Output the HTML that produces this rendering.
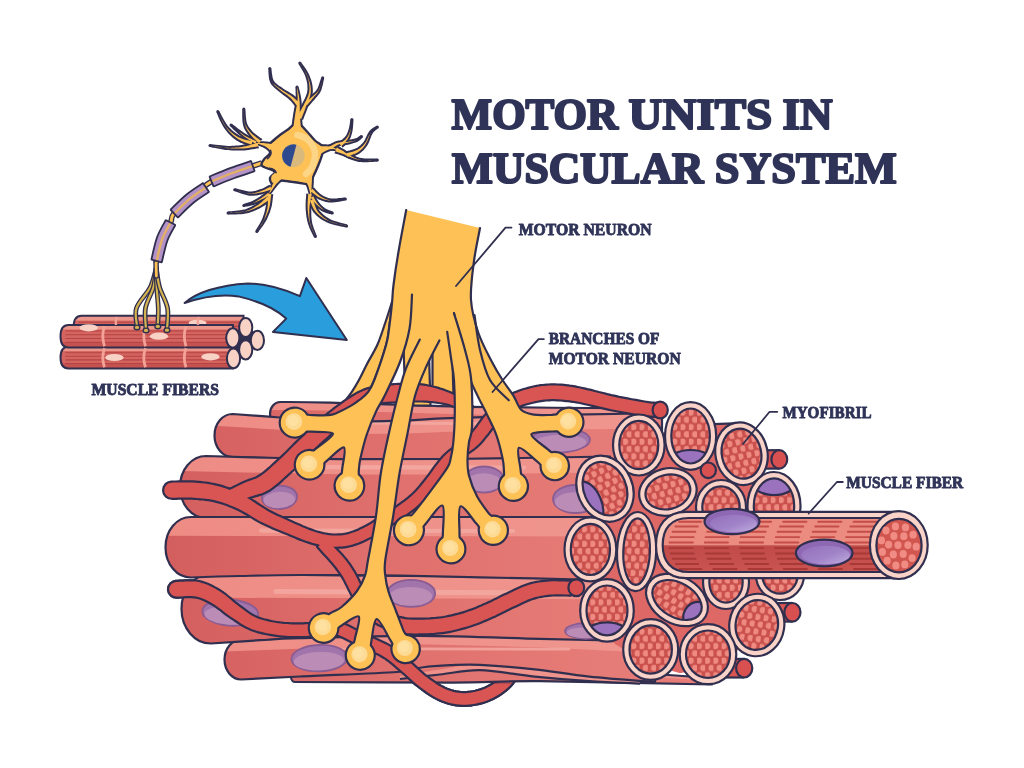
<!DOCTYPE html>
<html lang="en"><head><meta charset="utf-8"><title>Motor units in muscular system</title>
<style>
html,body{margin:0;padding:0;background:#fff;}
body{width:1024px;height:768px;overflow:hidden;font-family:"Liberation Serif",serif;}
svg{display:block;filter:blur(0.35px);}
svg text{font-family:"Liberation Serif",serif;font-weight:bold;fill:#2f3357;}
</style></head><body>
<svg width="1024" height="768" viewBox="0 0 1024 768">
<defs>
<linearGradient id="gf" gradientUnits="userSpaceOnUse" x1="165" y1="0" x2="600" y2="0"><stop offset="0" stop-color="#d35e5e"/><stop offset="0.45" stop-color="#de6e6b"/><stop offset="1" stop-color="#e67c77"/></linearGradient>
<linearGradient id="gd" gradientUnits="userSpaceOnUse" x1="165" y1="0" x2="600" y2="0"><stop offset="0" stop-color="#d35e5e"/><stop offset="0.45" stop-color="#de6e6b"/><stop offset="1" stop-color="#e67c77"/></linearGradient>
<linearGradient id="gl" gradientUnits="userSpaceOnUse" x1="165" y1="0" x2="600" y2="0"><stop offset="0" stop-color="#ee8c84"/><stop offset="1" stop-color="#ef958e"/></linearGradient>
<clipPath id="fc1"><path d="M662 408.5C630 408.2 525.3 407.8 470 406.8C414.7 405.8 361.7 403.4 330 402.6C298.3 401.8 288.4 402.1 280.1 402C274.5 402 270 407.3 270 414 C270 420.7 274.5 426 280.1 426L662 432Z"/></clipPath>
<clipPath id="fc2"><path d="M712 678C693.3 676.7 628.7 672.7 600 670C571.3 667.3 560 663.8 540 662C520 660.2 496.7 658.8 480 659C463.3 659.2 453.3 661.5 440 663C426.7 664.5 424.1 666.5 400 668C375.9 669.5 312.7 671.3 295.2 672C292.9 672 291 674.2 291 677 C291 679.8 292.9 682 295.2 682C321.3 682.1 411.2 682.7 452 682.6C492.8 682.5 496.7 680.9 540 681.2C583.3 681.5 683.3 684 712 684.5Z"/></clipPath>
<clipPath id="fc3"><path d="M640 413.5C626.7 413.8 591.7 414.2 560 415C528.3 415.8 476.7 417.3 450 418.2C423.3 419.1 419.2 420.1 400 420.6C380.8 421.2 355 422 335 421.5C315 421 297.1 418.8 280 417.5C262.9 416.2 240.5 414.6 232.6 414C222.6 414 214.5 423.5 214.5 435.5 C214.5 447.5 222.6 457 232.6 457L640 470Z"/></clipPath>
<clipPath id="fc4"><path d="M655 640.5C635.8 639.6 579.2 636.4 540 635C500.8 633.6 469.8 631.2 420 632C370.2 632.8 271 638.4 241.2 639.7C232 639.7 224.5 648.5 224.5 659.6 C224.5 670.7 232 679.5 241.2 679.5C251 679 274 677.8 300 676.5C326 675.2 376.7 673.5 397 672C417.3 670.5 413.2 668.6 422 667.5C430.8 666.4 440.3 665.7 450 665.2C459.7 664.8 465.9 664.1 480 664.8C494.1 665.5 516.5 667.3 534.7 669.3C552.9 671.3 569.2 674.5 589.3 676.6C609.3 678.7 644 681.1 655 682Z"/></clipPath>
<clipPath id="fc5"><path d="M610 456.5C583.3 456.9 493.3 458.6 450 459C406.7 459.4 378.3 459.4 350 459.2C321.7 459 304 458.5 280 458C256 457.5 218.4 456.3 206 456C191.7 456 180 469.6 180 487 C180 504.4 191.7 518 206 518L610 522Z"/></clipPath>
<clipPath id="fc6"><path d="M610 578 L210.7 574C194.6 574 181.5 589.3 181.5 608.8 C181.5 628.2 194.6 643.5 210.7 643.5C218.9 643 245.1 641.1 260 640.2C274.9 639.3 273.3 638.9 300 638.2C326.7 637.5 380 635.7 420 635.8C460 635.9 508.3 638 540 638.8C571.7 639.6 598.3 640.2 610 640.5Z"/></clipPath>
<clipPath id="fc7"><path d="M600 517 L190.9 517C176.9 517 165.5 530.3 165.5 547.2 C165.5 564.2 176.9 577.5 190.9 577.5C199.1 577.2 221.8 576.4 240 576C258.2 575.6 273.3 575.1 300 575C326.7 574.9 370 575.2 400 575.6C430 576 446.7 576.6 480 577.3C513.3 578 580 579.5 600 580Z"/></clipPath>
<clipPath id="holeB"><path clip-rule="evenodd" d="M0 0H1024V768H0Z M476 655 L560 655 L560 684.5 L476 683.4 Z"/></clipPath>
<pattern id="dots" width="8.2" height="14.6" patternUnits="userSpaceOnUse"><rect width="8.2" height="14.6" fill="#c9504c"/><ellipse cx="2.05" cy="3.65" rx="2.95" ry="3.2" fill="#ee8a81"/><ellipse cx="6.15" cy="10.95" rx="2.95" ry="3.2" fill="#ee8a81"/></pattern>
<clipPath id="cc8"><ellipse cx="690.6" cy="436" rx="19.3" ry="27.5"/></clipPath>
<clipPath id="cc11"><ellipse cx="774" cy="506" rx="20.2" ry="27.7"/></clipPath>
<clipPath id="cc14"><ellipse cx="605" cy="488.7" rx="21.2" ry="27.7"/></clipPath>
<clipPath id="cc19"><ellipse cx="677" cy="600" rx="26.7" ry="17.2"/></clipPath>
<clipPath id="cc20"><ellipse cx="607" cy="610.4" rx="20.5" ry="24.9"/></clipPath>
<clipPath id="extc"><path d="M898.7 518 L688.7 518 C670.7 518 662.7 529 662.7 545 C662.7 561 670.7 572 688.7 572 L898.7 572 Z"/></clipPath>
<linearGradient id="gext" x1="0" y1="0" x2="0" y2="1"><stop offset="0" stop-color="#bf4a48"/><stop offset="1" stop-color="#ca5451"/></linearGradient>
<linearGradient id="gnu" x1="0" y1="0" x2="1" y2="1"><stop offset="0" stop-color="#9570bb"/><stop offset="0.55" stop-color="#a083c8"/><stop offset="1" stop-color="#c2aee0"/></linearGradient>
<clipPath id="sf24"><path d="M243.5 315.8 L81.5 315.8 C75.5 315.8 73.5 321.9 73.5 327.9 C73.5 333.9 75.5 340 81.5 340 L243.5 340 Z"/></clipPath>
<clipPath id="sf25"><path d="M233 346.8 L68.5 346.8 C62.5 346.8 60.5 352.2 60.5 357.6 C60.5 363.1 62.5 368.5 68.5 368.5 L233 368.5 Z"/></clipPath>
<clipPath id="sf26"><path d="M233 325 L68.5 325 C62.5 325 60.5 330.6 60.5 336.2 C60.5 341.8 62.5 347.4 68.5 347.4 L233 347.4 Z"/></clipPath>
</defs>
<rect width="1024" height="768" fill="#ffffff"/>
<path d="M176.6 596.6L178.4 596.5L180.7 596.4L183.3 596.2L186.1 596.1L188.9 596L191.6 596L194.1 596.2L196.1 596.5L198 596.9L200 597.5L202 598.2L204 599L206.1 600L208.2 601.1L210.4 602.3L212.6 603.5L214.7 604.8L216.8 606.2L219.1 607.9L221.4 609.6L223.7 611.5L226.2 613.4L228.7 615.2L231.2 616.9L233.6 618.5L235.9 620.1L238.2 621.6L240.6 623.2L243.1 624.8L245.7 626.2L248.5 627.6L251.4 628.9L254.5 630L257.5 631L260.7 631.8L263.9 632.6L267 633.2L270.2 633.8L273.3 634.3L276.4 634.7L279.5 635.2L282.6 635.5L285.8 635.7L288.9 635.9L291.9 636L294.9 636.1L297.8 636.1L300.6 636.1L303.4 636L306.1 635.9L308.7 635.7L311.1 635.5L313.5 635.3L315.8 635.1L318 634.9L320.3 634.8L322.8 634.6L325.1 634.4L327.3 634.2L329.3 634L331.2 633.9L333.1 634L334.9 634.2L336.9 634.6L339.1 635.3L341.6 636.3L344.3 637.5L347.2 639L350.2 640.5L353.2 642.1L356.4 643.7L359.5 645.2L362.7 646.7L365.9 648.1L369.1 649.5L372.3 650.8L375.4 652.2L378.3 653.6L381.1 655L383.6 656.5L386 658L388.2 659.6L390.4 661.3L392.6 663L394.7 664.8L396.8 666.7L399 668.5L401.2 670.4L403.3 672.2L405.4 674L407.4 675.9L409.5 677.8L411.6 679.8L413.8 681.8L416.1 683.7L418.5 685.6L420.9 687.4L423.3 689.3L425.9 691.1L428.5 692.9L431.2 694.7L434 696.4L436.8 697.9L439.6 699.3L442.4 700.5L445.2 701.5L448 702.4L450.8 703.2L453.7 703.8L456.6 704.3L459.6 704.6L462.6 704.8L465.6 704.8L468.8 704.6L471.9 704.2L475 703.7L478.1 703.1L481.2 702.3L484.2 701.4L487 700.4L489.8 699.3L492.6 698L495.3 696.6L497.9 695.1L500.4 693.5L502.7 691.8L505 690L507.3 688.1L509.5 686L511.7 683.6L513.7 681.1L515.5 678.6L517.2 676.3L518.6 674.3L519.8 672.6L520.6 671.5L511.4 664.5L510.4 665.9L509.1 667.6L507.7 669.6L506.2 671.8L504.5 673.9L502.8 676L501.2 677.9L499.5 679.5L497.8 680.9L495.9 682.4L493.8 683.9L491.8 685.2L489.6 686.5L487.4 687.6L485.2 688.7L483 689.6L480.6 690.4L478.1 691.1L475.6 691.8L472.9 692.3L470.3 692.7L467.7 693L465.2 693.2L462.8 693.2L460.5 693.1L458.2 692.8L455.9 692.4L453.6 691.9L451.3 691.3L449 690.6L446.7 689.7L444.4 688.7L442.1 687.6L439.8 686.3L437.4 684.9L435 683.3L432.6 681.6L430.2 679.9L427.8 678.1L425.5 676.4L423.4 674.7L421.4 673L419.4 671.2L417.3 669.3L415.3 667.4L413.2 665.5L411 663.5L408.8 661.6L406.6 659.7L404.4 657.9L402.2 656L400 654.1L397.6 652.1L395.1 650.2L392.4 648.3L389.6 646.5L386.6 644.8L383.4 643.2L380.2 641.7L377 640.2L373.7 638.8L370.5 637.4L367.4 636.1L364.5 634.8L361.6 633.3L358.6 631.8L355.5 630.2L352.4 628.6L349.3 627.1L346.2 625.6L343 624.4L339.9 623.4L336.8 622.7L333.9 622.4L331.1 622.3L328.6 622.4L326.2 622.6L324 622.9L321.9 623.1L319.7 623.2L317.3 623.3L314.8 623.5L312.4 623.7L310.1 624L307.7 624.2L305.4 624.3L303 624.5L300.6 624.5L297.9 624.5L295.1 624.5L292.3 624.4L289.4 624.3L286.5 624.1L283.7 623.9L280.8 623.6L278 623.3L275.2 622.8L272.3 622.3L269.4 621.7L266.5 621L263.7 620.3L261 619.5L258.5 618.7L256.1 617.7L253.9 616.6L251.7 615.5L249.7 614.2L247.6 612.7L245.5 611.2L243.3 609.6L241.1 607.9L238.8 606.3L236.6 604.6L234.4 602.9L232.2 601L229.9 599L227.5 597.1L225.1 595.1L222.5 593.2L219.9 591.5L217.4 590L215 588.6L212.5 587.3L210 586L207.4 584.8L204.7 583.8L201.9 582.9L198.9 582.1L195.6 581.6L192.1 581.4L188.8 581.4L185.5 581.5L182.4 581.7L179.8 581.8L177.7 582L176.2 582L173.4 582.7L171.1 584.3L169.6 586.7L169.1 589.5L169.8 592.3L171.4 594.6L173.8 596.1Z" fill="#312f4f" stroke="#312f4f" stroke-width="4.4" stroke-linejoin="round"/>
<path d="M176.6 596.6L178.4 596.5L180.7 596.4L183.3 596.2L186.1 596.1L188.9 596L191.6 596L194.1 596.2L196.1 596.5L198 596.9L200 597.5L202 598.2L204 599L206.1 600L208.2 601.1L210.4 602.3L212.6 603.5L214.7 604.8L216.8 606.2L219.1 607.9L221.4 609.6L223.7 611.5L226.2 613.4L228.7 615.2L231.2 616.9L233.6 618.5L235.9 620.1L238.2 621.6L240.6 623.2L243.1 624.8L245.7 626.2L248.5 627.6L251.4 628.9L254.5 630L257.5 631L260.7 631.8L263.9 632.6L267 633.2L270.2 633.8L273.3 634.3L276.4 634.7L279.5 635.2L282.6 635.5L285.8 635.7L288.9 635.9L291.9 636L294.9 636.1L297.8 636.1L300.6 636.1L303.4 636L306.1 635.9L308.7 635.7L311.1 635.5L313.5 635.3L315.8 635.1L318 634.9L320.3 634.8L322.8 634.6L325.1 634.4L327.3 634.2L329.3 634L331.2 633.9L333.1 634L334.9 634.2L336.9 634.6L339.1 635.3L341.6 636.3L344.3 637.5L347.2 639L350.2 640.5L353.2 642.1L356.4 643.7L359.5 645.2L362.7 646.7L365.9 648.1L369.1 649.5L372.3 650.8L375.4 652.2L378.3 653.6L381.1 655L383.6 656.5L386 658L388.2 659.6L390.4 661.3L392.6 663L394.7 664.8L396.8 666.7L399 668.5L401.2 670.4L403.3 672.2L405.4 674L407.4 675.9L409.5 677.8L411.6 679.8L413.8 681.8L416.1 683.7L418.5 685.6L420.9 687.4L423.3 689.3L425.9 691.1L428.5 692.9L431.2 694.7L434 696.4L436.8 697.9L439.6 699.3L442.4 700.5L445.2 701.5L448 702.4L450.8 703.2L453.7 703.8L456.6 704.3L459.6 704.6L462.6 704.8L465.6 704.8L468.8 704.6L471.9 704.2L475 703.7L478.1 703.1L481.2 702.3L484.2 701.4L487 700.4L489.8 699.3L492.6 698L495.3 696.6L497.9 695.1L500.4 693.5L502.7 691.8L505 690L507.3 688.1L509.5 686L511.7 683.6L513.7 681.1L515.5 678.6L517.2 676.3L518.6 674.3L519.8 672.6L520.6 671.5L511.4 664.5L510.4 665.9L509.1 667.6L507.7 669.6L506.2 671.8L504.5 673.9L502.8 676L501.2 677.9L499.5 679.5L497.8 680.9L495.9 682.4L493.8 683.9L491.8 685.2L489.6 686.5L487.4 687.6L485.2 688.7L483 689.6L480.6 690.4L478.1 691.1L475.6 691.8L472.9 692.3L470.3 692.7L467.7 693L465.2 693.2L462.8 693.2L460.5 693.1L458.2 692.8L455.9 692.4L453.6 691.9L451.3 691.3L449 690.6L446.7 689.7L444.4 688.7L442.1 687.6L439.8 686.3L437.4 684.9L435 683.3L432.6 681.6L430.2 679.9L427.8 678.1L425.5 676.4L423.4 674.7L421.4 673L419.4 671.2L417.3 669.3L415.3 667.4L413.2 665.5L411 663.5L408.8 661.6L406.6 659.7L404.4 657.9L402.2 656L400 654.1L397.6 652.1L395.1 650.2L392.4 648.3L389.6 646.5L386.6 644.8L383.4 643.2L380.2 641.7L377 640.2L373.7 638.8L370.5 637.4L367.4 636.1L364.5 634.8L361.6 633.3L358.6 631.8L355.5 630.2L352.4 628.6L349.3 627.1L346.2 625.6L343 624.4L339.9 623.4L336.8 622.7L333.9 622.4L331.1 622.3L328.6 622.4L326.2 622.6L324 622.9L321.9 623.1L319.7 623.2L317.3 623.3L314.8 623.5L312.4 623.7L310.1 624L307.7 624.2L305.4 624.3L303 624.5L300.6 624.5L297.9 624.5L295.1 624.5L292.3 624.4L289.4 624.3L286.5 624.1L283.7 623.9L280.8 623.6L278 623.3L275.2 622.8L272.3 622.3L269.4 621.7L266.5 621L263.7 620.3L261 619.5L258.5 618.7L256.1 617.7L253.9 616.6L251.7 615.5L249.7 614.2L247.6 612.7L245.5 611.2L243.3 609.6L241.1 607.9L238.8 606.3L236.6 604.6L234.4 602.9L232.2 601L229.9 599L227.5 597.1L225.1 595.1L222.5 593.2L219.9 591.5L217.4 590L215 588.6L212.5 587.3L210 586L207.4 584.8L204.7 583.8L201.9 582.9L198.9 582.1L195.6 581.6L192.1 581.4L188.8 581.4L185.5 581.5L182.4 581.7L179.8 581.8L177.7 582L176.2 582L173.4 582.7L171.1 584.3L169.6 586.7L169.1 589.5L169.8 592.3L171.4 594.6L173.8 596.1Z" fill="#d95553"/>
<path d="M392.3 301C391.2 304.5 388 314.8 385.5 322C383 329.2 380.6 337.5 377.5 344.5C374.4 351.5 370 358.2 367 364C364 369.8 362 374.4 359.5 379C357 383.6 354.7 387.6 352 391.6C349.3 395.7 345.7 399.9 343.4 403.3C341.1 406.7 338.9 410.6 338 412 L358 412 C358.7 410 360.3 403.4 362 400C363.7 396.6 366.3 395.1 368.4 391.6C370.5 388.1 371.7 386.9 374.7 379C377.7 371.1 383.7 353.5 386.2 344.5C388.7 335.5 388.5 331.9 389.5 325C390.5 318.1 391.9 307 392.4 303.4" fill="#fdc156" stroke="#312f4f" stroke-width="2.2" stroke-linejoin="round"/>
<g id="bundle">
<path d="M662 408.5C630 408.2 525.3 407.8 470 406.8C414.7 405.8 361.7 403.4 330 402.6C298.3 401.8 288.4 402.1 280.1 402C274.5 402 270 407.3 270 414 C270 420.7 274.5 426 280.1 426L662 432Z" fill="url(#gf)"/>
<g clip-path="url(#fc1)">
<path d="M268 399L330 399.6L470 403.8L662 405.5L662 416.3L470 414.6L330 410.5L268 409.9Z" fill="url(#gl)"/>
</g>
<path d="M662 408.5C630 408.2 525.3 407.8 470 406.8C414.7 405.8 361.7 403.4 330 402.6C298.3 401.8 288.4 402.1 280.1 402C274.5 402 270 407.3 270 414 C270 420.7 274.5 426 280.1 426L662 432Z" fill="none" stroke="#312f4f" stroke-width="2.2" stroke-linejoin="round"/>
<path d="M712 678C693.3 676.7 628.7 672.7 600 670C571.3 667.3 560 663.8 540 662C520 660.2 496.7 658.8 480 659C463.3 659.2 453.3 661.5 440 663C426.7 664.5 424.1 666.5 400 668C375.9 669.5 312.7 671.3 295.2 672C292.9 672 291 674.2 291 677 C291 679.8 292.9 682 295.2 682C321.3 682.1 411.2 682.7 452 682.6C492.8 682.5 496.7 680.9 540 681.2C583.3 681.5 683.3 684 712 684.5Z" fill="url(#gf)"/>
<g clip-path="url(#fc2)">
<path d="M289 669L400 665L440 660L480 656L540 659L600 667L712 675L712 680.9L600 673.3L540 665.6L480 662.8L440 666.9L400 672.1L289 676.5Z" fill="url(#gl)"/>
</g>
<path d="M712 678C693.3 676.7 628.7 672.7 600 670C571.3 667.3 560 663.8 540 662C520 660.2 496.7 658.8 480 659C463.3 659.2 453.3 661.5 440 663C426.7 664.5 424.1 666.5 400 668C375.9 669.5 312.7 671.3 295.2 672C292.9 672 291 674.2 291 677 C291 679.8 292.9 682 295.2 682C321.3 682.1 411.2 682.7 452 682.6C492.8 682.5 496.7 680.9 540 681.2C583.3 681.5 683.3 684 712 684.5Z" fill="none" stroke="#312f4f" stroke-width="2.2" stroke-linejoin="round"/>
<path d="M640 413.5C626.7 413.8 591.7 414.2 560 415C528.3 415.8 476.7 417.3 450 418.2C423.3 419.1 419.2 420.1 400 420.6C380.8 421.2 355 422 335 421.5C315 421 297.1 418.8 280 417.5C262.9 416.2 240.5 414.6 232.6 414C222.6 414 214.5 423.5 214.5 435.5 C214.5 447.5 222.6 457 232.6 457L640 470Z" fill="url(#gf)"/>
<g clip-path="url(#fc3)">
<path d="M212.5 411L280 414.5L335 418.5L400 417.6L450 415.2L560 412L640 410.5L640 428.8L560 429.6L450 431.8L400 433.8L335 434.1L280 429.7L212.5 425.6Z" fill="url(#gl)"/>
<path d="M308.1 422.8 L554.9 424.1" stroke="#f4aaa2" stroke-width="3" stroke-linecap="round" opacity="0.85"/>
</g>
<path d="M640 413.5C626.7 413.8 591.7 414.2 560 415C528.3 415.8 476.7 417.3 450 418.2C423.3 419.1 419.2 420.1 400 420.6C380.8 421.2 355 422 335 421.5C315 421 297.1 418.8 280 417.5C262.9 416.2 240.5 414.6 232.6 414C222.6 414 214.5 423.5 214.5 435.5 C214.5 447.5 222.6 457 232.6 457L640 470Z" fill="none" stroke="#312f4f" stroke-width="2.2" stroke-linejoin="round"/>
<path d="M400 676C406.7 674.9 426.7 671.5 440 669.5C453.3 667.5 464.2 664.2 480 664C495.8 663.8 516.5 666.5 534.7 668.5C552.9 670.5 571.8 673.8 589.3 675.8C606.8 677.8 631.5 679.7 640 680.5 L640 683.6 L589.3 681.2 L534.7 676.6 L480 670.2 L440 674.5 L400 679 Z" fill="url(#gl)"/>
<path d="M400 679C406.7 678.2 426.7 676 440 674.5C453.3 673 464.2 669.9 480 670.2C495.8 670.6 516.5 674.8 534.7 676.6C552.9 678.4 571.8 680 589.3 681.2C606.8 682.4 631.5 683.2 640 683.6" fill="none" stroke="#312f4f" stroke-width="2.2"/>
<path d="M655 640.5C635.8 639.6 579.2 636.4 540 635C500.8 633.6 469.8 631.2 420 632C370.2 632.8 271 638.4 241.2 639.7C232 639.7 224.5 648.5 224.5 659.6 C224.5 670.7 232 679.5 241.2 679.5C251 679 274 677.8 300 676.5C326 675.2 376.7 673.5 397 672C417.3 670.5 413.2 668.6 422 667.5C430.8 666.4 440.3 665.7 450 665.2C459.7 664.8 465.9 664.1 480 664.8C494.1 665.5 516.5 667.3 534.7 669.3C552.9 671.3 569.2 674.5 589.3 676.6C609.3 678.7 644 681.1 655 682Z" fill="url(#gf)"/>
<g clip-path="url(#fc4)">
<path d="M222.5 636.7L420 629L540 632L655 637.5L655 653L540 647.3L420 644.2L222.5 651.6Z" fill="url(#gl)"/>
<path d="M319.2 648.6 L568.9 649.2" stroke="#f4aaa2" stroke-width="2.8" stroke-linecap="round" opacity="0.85"/>
</g>
<path d="M655 640.5C635.8 639.6 579.2 636.4 540 635C500.8 633.6 469.8 631.2 420 632C370.2 632.8 271 638.4 241.2 639.7C232 639.7 224.5 648.5 224.5 659.6 C224.5 670.7 232 679.5 241.2 679.5C251 679 274 677.8 300 676.5C326 675.2 376.7 673.5 397 672C417.3 670.5 413.2 668.6 422 667.5C430.8 666.4 440.3 665.7 450 665.2C459.7 664.8 465.9 664.1 480 664.8C494.1 665.5 516.5 667.3 534.7 669.3C552.9 671.3 569.2 674.5 589.3 676.6C609.3 678.7 644 681.1 655 682Z" fill="none" stroke="#312f4f" stroke-width="2.2" stroke-linejoin="round"/>
<path d="M610 456.5C583.3 456.9 493.3 458.6 450 459C406.7 459.4 378.3 459.4 350 459.2C321.7 459 304 458.5 280 458C256 457.5 218.4 456.3 206 456C191.7 456 180 469.6 180 487 C180 504.4 191.7 518 206 518L610 522Z" fill="url(#gf)"/>
<g clip-path="url(#fc5)">
<path d="M178 453L280 455L350 456.2L450 456L610 453.5L610 472.2L450 474.4L350 474.4L280 473.1L178 470.9Z" fill="url(#gl)"/>
<path d="M274.6 467 L524 467.6" stroke="#f4aaa2" stroke-width="4.3" stroke-linecap="round" opacity="0.85"/>
</g>
<path d="M610 456.5C583.3 456.9 493.3 458.6 450 459C406.7 459.4 378.3 459.4 350 459.2C321.7 459 304 458.5 280 458C256 457.5 218.4 456.3 206 456C191.7 456 180 469.6 180 487 C180 504.4 191.7 518 206 518L610 522Z" fill="none" stroke="#312f4f" stroke-width="2.2" stroke-linejoin="round"/>
<path d="M610 578 L210.7 574C194.6 574 181.5 589.3 181.5 608.8 C181.5 628.2 194.6 643.5 210.7 643.5C218.9 643 245.1 641.1 260 640.2C274.9 639.3 273.3 638.9 300 638.2C326.7 637.5 380 635.7 420 635.8C460 635.9 508.3 638 540 638.8C571.7 639.6 598.3 640.2 610 640.5Z" fill="url(#gf)"/>
<g clip-path="url(#fc6)">
<path d="M179.5 571L610 575L610 599.2L179.5 597.6Z" fill="url(#gl)"/>
<path d="M275.8 591.5 L524.3 592.8" stroke="#f4aaa2" stroke-width="4.9" stroke-linecap="round" opacity="0.85"/>
</g>
<path d="M610 578 L210.7 574C194.6 574 181.5 589.3 181.5 608.8 C181.5 628.2 194.6 643.5 210.7 643.5C218.9 643 245.1 641.1 260 640.2C274.9 639.3 273.3 638.9 300 638.2C326.7 637.5 380 635.7 420 635.8C460 635.9 508.3 638 540 638.8C571.7 639.6 598.3 640.2 610 640.5Z" fill="none" stroke="#312f4f" stroke-width="2.2" stroke-linejoin="round"/>
<path d="M600 517 L190.9 517C176.9 517 165.5 530.3 165.5 547.2 C165.5 564.2 176.9 577.5 190.9 577.5C199.1 577.2 221.8 576.4 240 576C258.2 575.6 273.3 575.1 300 575C326.7 574.9 370 575.2 400 575.6C430 576 446.7 576.6 480 577.3C513.3 578 580 579.5 600 580Z" fill="url(#gf)"/>
<g clip-path="url(#fc7)">
<path d="M163.5 514L600 514L600 536.5L163.5 535.8Z" fill="url(#gl)"/>
<path d="M261.1 530.6 L513.1 531" stroke="#f4aaa2" stroke-width="4.2" stroke-linecap="round" opacity="0.85"/>
</g>
<path d="M600 517 L190.9 517C176.9 517 165.5 530.3 165.5 547.2 C165.5 564.2 176.9 577.5 190.9 577.5C199.1 577.2 221.8 576.4 240 576C258.2 575.6 273.3 575.1 300 575C326.7 574.9 370 575.2 400 575.6C430 576 446.7 576.6 480 577.3C513.3 578 580 579.5 600 580Z" fill="none" stroke="#312f4f" stroke-width="2.2" stroke-linejoin="round"/>
</g>
<g id="nuclei">
<g transform="rotate(-3 279.5 497.3)">
<ellipse cx="279.5" cy="497.3" rx="17.6" ry="11.7" fill="#a175ac" stroke="#8a5c91" stroke-width="1.8"/>
<ellipse cx="279.1" cy="499.9" rx="15.8" ry="8.2" fill="#ba8cb6"/>
</g>
<g transform="rotate(0 484 479.5)">
<ellipse cx="484" cy="479.5" rx="19.5" ry="13" fill="#a175ac" stroke="#8a5c91" stroke-width="1.8"/>
<ellipse cx="483.6" cy="482.4" rx="17.6" ry="9.1" fill="#ba8cb6"/>
</g>
<g transform="rotate(0 411.2 593.4)">
<ellipse cx="411.2" cy="593.4" rx="24" ry="13.5" fill="#a175ac" stroke="#8a5c91" stroke-width="1.8"/>
<ellipse cx="410.7" cy="596.4" rx="21.6" ry="9.4" fill="#ba8cb6"/>
</g>
<g transform="rotate(4 230.3 612.7)">
<ellipse cx="230.3" cy="612.7" rx="28" ry="13" fill="#a175ac" stroke="#8a5c91" stroke-width="1.8"/>
<ellipse cx="229.7" cy="615.6" rx="25.2" ry="9.1" fill="#ba8cb6"/>
</g>
<g transform="rotate(-2 319.4 658.2)">
<ellipse cx="319.4" cy="658.2" rx="28" ry="13.2" fill="#a175ac" stroke="#8a5c91" stroke-width="1.8"/>
<ellipse cx="318.8" cy="661.1" rx="25.2" ry="9.2" fill="#ba8cb6"/>
</g>
<g transform="rotate(-2 560 440.5)">
<ellipse cx="560" cy="440.5" rx="30" ry="12" fill="#a175ac" stroke="#8a5c91" stroke-width="1.8"/>
<ellipse cx="559.4" cy="443.1" rx="27" ry="8.4" fill="#ba8cb6"/>
</g>
<g transform="rotate(0 575.6 499)">
<ellipse cx="575.6" cy="499" rx="22.6" ry="14" fill="#a175ac" stroke="#8a5c91" stroke-width="1.8"/>
<ellipse cx="575.1" cy="502.1" rx="20.3" ry="9.8" fill="#ba8cb6"/>
</g>
<g transform="rotate(0 586 631)">
<ellipse cx="586" cy="631" rx="21" ry="7.8" fill="#a175ac" stroke="#8a5c91" stroke-width="1.8"/>
<ellipse cx="585.6" cy="632.7" rx="18.9" ry="5.5" fill="#ba8cb6"/>
</g>
</g>
<g id="nerveback">
<path d="M403.2 338 L405.2 394 L414 405.3 L430.5 405.6 L428.6 340" fill="#fdc156" stroke="#312f4f" stroke-width="2.2"/>
<path d="M432.5 345 L432.5 396 L453.5 396 L452 345" fill="#fdc156" stroke="#312f4f" stroke-width="2.2"/>
</g>
<g id="caps">
<g clip-path="url(#holeB)">
<path d="M176.6 596.6L178.4 596.5L180.7 596.4L183.3 596.2L186.1 596.1L188.9 596L191.6 596L194.1 596.2L196.1 596.5L198 596.9L200 597.5L202 598.2L204 599L206.1 600L208.2 601.1L210.4 602.3L212.6 603.5L214.7 604.8L216.8 606.2L219.1 607.9L221.4 609.6L223.7 611.5L226.2 613.4L228.7 615.2L231.2 616.9L233.6 618.5L235.9 620.1L238.2 621.6L240.6 623.2L243.1 624.8L245.7 626.2L248.5 627.6L251.4 628.9L254.5 630L257.5 631L260.7 631.8L263.9 632.6L267 633.2L270.2 633.8L273.3 634.3L276.4 634.7L279.5 635.2L282.6 635.5L285.8 635.7L288.9 635.9L291.9 636L294.9 636.1L297.8 636.1L300.6 636.1L303.4 636L306.1 635.9L308.7 635.7L311.1 635.5L313.5 635.3L315.8 635.1L318 634.9L320.3 634.8L322.8 634.6L325.1 634.4L327.3 634.2L329.3 634L331.2 633.9L333.1 634L334.9 634.2L336.9 634.6L339.1 635.3L341.6 636.3L344.3 637.5L347.2 639L350.2 640.5L353.2 642.1L356.4 643.7L359.5 645.2L362.7 646.7L365.9 648.1L369.1 649.5L372.3 650.8L375.4 652.2L378.3 653.6L381.1 655L383.6 656.5L386 658L388.2 659.6L390.4 661.3L392.6 663L394.7 664.8L396.8 666.7L399 668.5L401.2 670.4L403.3 672.2L405.4 674L407.4 675.9L409.5 677.8L411.6 679.8L413.8 681.8L416.1 683.7L418.5 685.6L420.9 687.4L423.3 689.3L425.9 691.1L428.5 692.9L431.2 694.7L434 696.4L436.8 697.9L439.6 699.3L442.4 700.5L445.2 701.5L448 702.4L450.8 703.2L453.7 703.8L456.6 704.3L459.6 704.6L462.6 704.8L465.6 704.8L468.8 704.6L471.9 704.2L475 703.7L478.1 703.1L481.2 702.3L484.2 701.4L487 700.4L489.8 699.3L492.6 698L495.3 696.6L497.9 695.1L500.4 693.5L502.7 691.8L505 690L507.3 688.1L509.5 686L511.7 683.6L513.7 681.1L515.5 678.6L517.2 676.3L518.6 674.3L519.8 672.6L520.6 671.5L511.4 664.5L510.4 665.9L509.1 667.6L507.7 669.6L506.2 671.8L504.5 673.9L502.8 676L501.2 677.9L499.5 679.5L497.8 680.9L495.9 682.4L493.8 683.9L491.8 685.2L489.6 686.5L487.4 687.6L485.2 688.7L483 689.6L480.6 690.4L478.1 691.1L475.6 691.8L472.9 692.3L470.3 692.7L467.7 693L465.2 693.2L462.8 693.2L460.5 693.1L458.2 692.8L455.9 692.4L453.6 691.9L451.3 691.3L449 690.6L446.7 689.7L444.4 688.7L442.1 687.6L439.8 686.3L437.4 684.9L435 683.3L432.6 681.6L430.2 679.9L427.8 678.1L425.5 676.4L423.4 674.7L421.4 673L419.4 671.2L417.3 669.3L415.3 667.4L413.2 665.5L411 663.5L408.8 661.6L406.6 659.7L404.4 657.9L402.2 656L400 654.1L397.6 652.1L395.1 650.2L392.4 648.3L389.6 646.5L386.6 644.8L383.4 643.2L380.2 641.7L377 640.2L373.7 638.8L370.5 637.4L367.4 636.1L364.5 634.8L361.6 633.3L358.6 631.8L355.5 630.2L352.4 628.6L349.3 627.1L346.2 625.6L343 624.4L339.9 623.4L336.8 622.7L333.9 622.4L331.1 622.3L328.6 622.4L326.2 622.6L324 622.9L321.9 623.1L319.7 623.2L317.3 623.3L314.8 623.5L312.4 623.7L310.1 624L307.7 624.2L305.4 624.3L303 624.5L300.6 624.5L297.9 624.5L295.1 624.5L292.3 624.4L289.4 624.3L286.5 624.1L283.7 623.9L280.8 623.6L278 623.3L275.2 622.8L272.3 622.3L269.4 621.7L266.5 621L263.7 620.3L261 619.5L258.5 618.7L256.1 617.7L253.9 616.6L251.7 615.5L249.7 614.2L247.6 612.7L245.5 611.2L243.3 609.6L241.1 607.9L238.8 606.3L236.6 604.6L234.4 602.9L232.2 601L229.9 599L227.5 597.1L225.1 595.1L222.5 593.2L219.9 591.5L217.4 590L215 588.6L212.5 587.3L210 586L207.4 584.8L204.7 583.8L201.9 582.9L198.9 582.1L195.6 581.6L192.1 581.4L188.8 581.4L185.5 581.5L182.4 581.7L179.8 581.8L177.7 582L176.2 582L173.4 582.7L171.1 584.3L169.6 586.7L169.1 589.5L169.8 592.3L171.4 594.6L173.8 596.1Z" fill="#312f4f" stroke="#312f4f" stroke-width="4.4" stroke-linejoin="round"/>
<path d="M176.6 596.6L178.4 596.5L180.7 596.4L183.3 596.2L186.1 596.1L188.9 596L191.6 596L194.1 596.2L196.1 596.5L198 596.9L200 597.5L202 598.2L204 599L206.1 600L208.2 601.1L210.4 602.3L212.6 603.5L214.7 604.8L216.8 606.2L219.1 607.9L221.4 609.6L223.7 611.5L226.2 613.4L228.7 615.2L231.2 616.9L233.6 618.5L235.9 620.1L238.2 621.6L240.6 623.2L243.1 624.8L245.7 626.2L248.5 627.6L251.4 628.9L254.5 630L257.5 631L260.7 631.8L263.9 632.6L267 633.2L270.2 633.8L273.3 634.3L276.4 634.7L279.5 635.2L282.6 635.5L285.8 635.7L288.9 635.9L291.9 636L294.9 636.1L297.8 636.1L300.6 636.1L303.4 636L306.1 635.9L308.7 635.7L311.1 635.5L313.5 635.3L315.8 635.1L318 634.9L320.3 634.8L322.8 634.6L325.1 634.4L327.3 634.2L329.3 634L331.2 633.9L333.1 634L334.9 634.2L336.9 634.6L339.1 635.3L341.6 636.3L344.3 637.5L347.2 639L350.2 640.5L353.2 642.1L356.4 643.7L359.5 645.2L362.7 646.7L365.9 648.1L369.1 649.5L372.3 650.8L375.4 652.2L378.3 653.6L381.1 655L383.6 656.5L386 658L388.2 659.6L390.4 661.3L392.6 663L394.7 664.8L396.8 666.7L399 668.5L401.2 670.4L403.3 672.2L405.4 674L407.4 675.9L409.5 677.8L411.6 679.8L413.8 681.8L416.1 683.7L418.5 685.6L420.9 687.4L423.3 689.3L425.9 691.1L428.5 692.9L431.2 694.7L434 696.4L436.8 697.9L439.6 699.3L442.4 700.5L445.2 701.5L448 702.4L450.8 703.2L453.7 703.8L456.6 704.3L459.6 704.6L462.6 704.8L465.6 704.8L468.8 704.6L471.9 704.2L475 703.7L478.1 703.1L481.2 702.3L484.2 701.4L487 700.4L489.8 699.3L492.6 698L495.3 696.6L497.9 695.1L500.4 693.5L502.7 691.8L505 690L507.3 688.1L509.5 686L511.7 683.6L513.7 681.1L515.5 678.6L517.2 676.3L518.6 674.3L519.8 672.6L520.6 671.5L511.4 664.5L510.4 665.9L509.1 667.6L507.7 669.6L506.2 671.8L504.5 673.9L502.8 676L501.2 677.9L499.5 679.5L497.8 680.9L495.9 682.4L493.8 683.9L491.8 685.2L489.6 686.5L487.4 687.6L485.2 688.7L483 689.6L480.6 690.4L478.1 691.1L475.6 691.8L472.9 692.3L470.3 692.7L467.7 693L465.2 693.2L462.8 693.2L460.5 693.1L458.2 692.8L455.9 692.4L453.6 691.9L451.3 691.3L449 690.6L446.7 689.7L444.4 688.7L442.1 687.6L439.8 686.3L437.4 684.9L435 683.3L432.6 681.6L430.2 679.9L427.8 678.1L425.5 676.4L423.4 674.7L421.4 673L419.4 671.2L417.3 669.3L415.3 667.4L413.2 665.5L411 663.5L408.8 661.6L406.6 659.7L404.4 657.9L402.2 656L400 654.1L397.6 652.1L395.1 650.2L392.4 648.3L389.6 646.5L386.6 644.8L383.4 643.2L380.2 641.7L377 640.2L373.7 638.8L370.5 637.4L367.4 636.1L364.5 634.8L361.6 633.3L358.6 631.8L355.5 630.2L352.4 628.6L349.3 627.1L346.2 625.6L343 624.4L339.9 623.4L336.8 622.7L333.9 622.4L331.1 622.3L328.6 622.4L326.2 622.6L324 622.9L321.9 623.1L319.7 623.2L317.3 623.3L314.8 623.5L312.4 623.7L310.1 624L307.7 624.2L305.4 624.3L303 624.5L300.6 624.5L297.9 624.5L295.1 624.5L292.3 624.4L289.4 624.3L286.5 624.1L283.7 623.9L280.8 623.6L278 623.3L275.2 622.8L272.3 622.3L269.4 621.7L266.5 621L263.7 620.3L261 619.5L258.5 618.7L256.1 617.7L253.9 616.6L251.7 615.5L249.7 614.2L247.6 612.7L245.5 611.2L243.3 609.6L241.1 607.9L238.8 606.3L236.6 604.6L234.4 602.9L232.2 601L229.9 599L227.5 597.1L225.1 595.1L222.5 593.2L219.9 591.5L217.4 590L215 588.6L212.5 587.3L210 586L207.4 584.8L204.7 583.8L201.9 582.9L198.9 582.1L195.6 581.6L192.1 581.4L188.8 581.4L185.5 581.5L182.4 581.7L179.8 581.8L177.7 582L176.2 582L173.4 582.7L171.1 584.3L169.6 586.7L169.1 589.5L169.8 592.3L171.4 594.6L173.8 596.1Z" fill="#d95553"/>
</g>
<path d="M318.2 546.6L319.5 548.1L321.3 550.1L323.4 552.4L325.8 555L328.2 557.6L330.5 560.2L332.6 562.6L334.4 564.7L335.9 566.6L337.2 568.3L338.4 569.9L339.5 571.4L340.6 572.9L341.6 574.5L342.6 576.1L343.6 577.8L344.6 579.5L345.5 581.2L346.4 583L347.4 584.9L348.3 586.8L349.2 588.7L350.2 590.7L351.3 592.7L352.2 594.5L353.1 596.4L354 598.4L355 600.4L356.1 602.5L357.3 604.6L358.8 606.8L360.4 608.9L362.1 610.8L363.8 612.7L365.7 614.6L367.7 616.4L369.8 618.2L372.1 619.9L374.4 621.5L376.9 623L379.5 624.5L382.3 625.8L385.2 627.1L388.2 628.3L391.2 629.4L394.2 630.4L397.2 631.3L400.1 632.1L403 632.6L405.9 633L408.7 633.2L411.5 633.3L414.2 633.4L416.8 633.4L419.5 633.3L422.1 633.3L424.9 633.2L427.7 633.2L430.6 633L433.5 632.9L436.5 632.6L439.5 632.3L442.5 632L445.6 631.5L448.7 631L451.7 630.4L454.8 629.7L458 628.9L461 628.1L464.1 627.3L467.1 626.4L470.1 625.5L473 624.5L475.9 623.5L478.8 622.4L481.6 621.3L484.3 620.1L487 619L489.7 617.8L492.4 616.6L495.1 615.4L497.7 614.1L500.4 612.8L502.9 611.6L505.4 610.3L507.9 609L510.4 607.8L512.9 606.6L515.5 605.4L518.1 604.2L520.6 603L523.1 601.8L525.6 600.7L527.9 599.6L530.2 598.7L532.5 598L534.7 597.3L536.9 596.7L539.1 596.2L541.3 595.8L543.5 595.4L545.8 595.1L548.1 594.8L550.5 594.5L552.9 594.4L555.7 594.3L558.6 594.3L561.5 594.3L564.4 594.4L567 594.4L569.2 594.5L570.8 594.5L571.2 581.9L569.6 581.8L567.4 581.7L564.8 581.6L561.9 581.5L558.8 581.4L555.6 581.3L552.5 581.3L549.5 581.5L546.8 581.7L544.2 581.9L541.6 582.2L539 582.6L536.4 583L533.8 583.6L531.1 584.2L528.3 585L525.6 586L522.8 587L520.1 588.2L517.4 589.4L514.7 590.7L512.2 591.9L509.6 593.2L507.1 594.4L504.5 595.6L501.9 596.8L499.4 598.1L496.8 599.4L494.3 600.6L491.8 601.9L489.3 603L486.8 604.2L484.2 605.3L481.6 606.5L479 607.6L476.4 608.7L473.8 609.7L471.2 610.7L468.6 611.6L465.9 612.5L463.2 613.4L460.4 614.2L457.5 615L454.7 615.7L451.8 616.4L449 617L446.2 617.6L443.4 618.1L440.7 618.5L438 618.8L435.3 619.1L432.6 619.3L429.9 619.5L427.2 619.6L424.5 619.7L421.9 619.7L419.2 619.7L416.7 619.8L414.3 619.8L411.9 619.8L409.6 619.6L407.4 619.5L405.2 619.2L402.9 618.7L400.5 618.2L397.9 617.6L395.3 616.9L392.6 616L390.1 615.1L387.6 614.1L385.2 613.1L383.1 612L381.1 610.9L379.2 609.7L377.4 608.4L375.7 607L374 605.6L372.5 604.1L371 602.6L369.6 601.1L368.5 599.7L367.4 598.2L366.5 596.6L365.5 594.9L364.6 593.1L363.6 591.2L362.6 589.3L361.5 587.3L360.6 585.5L359.6 583.6L358.7 581.7L357.8 579.8L356.8 577.8L355.8 575.8L354.7 573.8L353.6 571.8L352.4 570L351.3 568.2L350.2 566.5L349 564.7L347.7 563L346.4 561.2L344.9 559.3L343.2 557.3L341.2 555L338.9 552.5L336.4 549.9L333.8 547.3L331.3 544.8L329.1 542.6L327.2 540.7L325.8 539.4Z" fill="#312f4f" stroke="#312f4f" stroke-width="4.4" stroke-linejoin="round"/>
<path d="M232.4 502.8L233.9 502.4L235.8 501.7L238.1 500.9L240.6 500.1L243.3 499.1L245.9 498.2L248.5 497.3L250.8 496.5L252.7 495.9L254.6 495.3L256.6 494.8L258.8 494.1L261.2 493.4L263.8 492.4L266.5 491.1L269.4 489.5L272.2 487.5L275 485.3L277.9 483L280.7 480.5L283.4 478L286.1 475.6L288.7 473.2L291.1 471L293.4 468.9L295.6 466.7L297.7 464.6L299.8 462.6L301.8 460.6L303.7 458.6L305.6 456.7L307.6 454.8L309.6 452.9L311.6 451L313.6 449.1L315.5 447.2L317.5 445.4L319.5 443.6L321.4 441.8L323.4 440L325.4 438.2L327.4 436.4L329.4 434.6L331.3 432.8L333.3 431.1L335.2 429.5L337.2 427.8L339.1 426.2L341 424.7L343 423.1L344.9 421.6L346.9 420.1L348.8 418.7L350.8 417.3L352.7 415.9L354.5 414.7L356.4 413.4L358.3 412.2L360 411L361.8 409.9L363.5 408.9L365.1 407.9L366.7 407.1L368.3 406.3L369.9 405.7L371.5 405.1L373.2 404.5L374.9 404L376.7 403.5L378.4 403.1L380.1 402.7L381.6 402.4L382.9 402.1L384 402L385 401.9L386 401.8L387.1 401.7L388.4 401.7L389.9 401.6L391.5 401.5L393.2 401.4L394.9 401.3L396.8 401.2L398.6 401.1L400.5 401L402.5 401L404.3 400.9L406.2 400.8L408.1 400.7L409.9 400.6L411.7 400.5L413.4 400.4L415.2 400.4L416.9 400.4L418.6 400.4L420.4 400.4L422.3 400.4L424.3 400.5L426.3 400.6L428.4 400.7L430.5 400.9L432.6 401.1L434.6 401.4L436.6 401.6L438.6 401.9L440.5 402.2L442.4 402.5L444.3 402.9L446.2 403.3L448 403.7L449.9 404.3L451.7 404.9L453.7 405.7L455.9 406.7L458.3 408L460.6 409.2L462.9 410.5L464.9 411.6L466.7 412.6L468 413.2L472 406.8L470.8 405.9L469.2 404.8L467.3 403.4L465.1 401.9L462.8 400.3L460.4 398.8L458 397.4L455.8 396.1L453.7 395L451.6 394L449.6 393.1L447.5 392.3L445.5 391.5L443.5 390.7L441.5 390L439.4 389.4L437.2 388.7L435 388.1L432.8 387.6L430.5 387L428.2 386.6L426 386.1L423.8 385.7L421.6 385.4L419.5 385.2L417.3 385L415.3 384.9L413.3 384.8L411.4 384.8L409.5 384.8L407.7 384.8L405.8 384.8L403.9 384.8L401.9 384.9L399.9 384.9L397.9 385L395.9 385.1L394 385.2L392.2 385.4L390.5 385.5L389.1 385.5L387.7 385.6L386.4 385.7L385 385.7L383.5 385.8L381.9 386L380.2 386.3L378.4 386.6L376.6 387L374.7 387.4L372.7 387.9L370.6 388.5L368.4 389.1L366.2 389.9L363.9 390.7L361.7 391.7L359.5 392.7L357.4 393.8L355.4 395L353.3 396.2L351.3 397.4L349.4 398.7L347.4 400L345.5 401.3L343.4 402.7L341.4 404.2L339.3 405.7L337.2 407.3L335.1 408.8L333.1 410.5L331 412.1L328.9 413.8L326.8 415.5L324.8 417.2L322.7 419L320.7 420.8L318.6 422.6L316.6 424.4L314.6 426.2L312.6 428L310.6 429.9L308.5 431.7L306.5 433.6L304.5 435.5L302.5 437.4L300.5 439.3L298.5 441.2L296.4 443.2L294.3 445.2L292.3 447.2L290.3 449.2L288.4 451.2L286.4 453.2L284.4 455.2L282.3 457.2L280.1 459.2L277.7 461.4L275.2 463.7L272.6 466.1L270 468.5L267.4 470.7L265 472.7L262.7 474.5L260.6 475.9L258.9 477L257.3 477.9L255.6 478.7L253.9 479.3L252 480L249.9 480.7L247.6 481.5L245.2 482.5L242.9 483.6L240.4 484.8L237.8 486.1L235.3 487.3L232.9 488.5L230.7 489.5L228.9 490.5L227.6 491.2Z" fill="#312f4f" stroke="#312f4f" stroke-width="4.4" stroke-linejoin="round"/>
<path d="M171.8 497.7L173.6 497.7L176.1 497.7L178.9 497.6L182 497.5L185.2 497.5L188.5 497.5L191.6 497.6L194.5 497.7L197.3 497.9L200.1 498.2L203 498.4L205.8 498.8L208.5 499.1L211.3 499.6L214 500.1L216.7 500.8L219.4 501.5L222.1 502.3L224.9 503.3L227.7 504.3L230.5 505.4L233.3 506.5L236.1 507.8L238.9 509.1L241.7 510.4L244.4 512L247.3 513.6L250.2 515.4L253.1 517.2L256.2 519.1L259.4 520.9L262.6 522.6L265.8 524.1L269.1 525.6L272.3 527.1L275.6 528.4L278.8 529.7L281.9 531L284.9 532.2L287.7 533.3L290.4 534.5L292.9 535.5L295.4 536.6L297.8 537.6L300.3 538.6L302.7 539.5L305.2 540.4L307.7 541.3L310.2 542.1L312.7 542.9L315.3 543.6L317.8 544.3L320.4 545L323.1 545.5L325.8 546L328.4 546.3L331.1 546.5L333.7 546.7L336.4 546.7L339.1 546.6L341.7 546.5L344.4 546.2L347.1 545.8L349.8 545.2L352.6 544.5L355.3 543.6L358 542.7L360.6 541.6L363.2 540.5L365.7 539.3L368.1 538.1L370.5 536.9L372.9 535.7L375.3 534.3L377.6 532.9L379.8 531.5L382 530.1L384 528.7L386 527.4L388 526.2L389.8 525L391.6 524L393.3 522.9L395.1 521.8L396.9 520.7L398.7 519.5L400.6 518.2L402.6 516.8L404.7 515.3L406.9 513.7L409.2 512L411.6 510.3L414 508.4L416.3 506.5L418.6 504.6L420.8 502.6L422.9 500.6L424.8 498.6L426.7 496.5L428.4 494.5L430.1 492.4L431.8 490.4L433.4 488.4L434.9 486.5L436.5 484.5L438.1 482.5L439.6 480.5L441.1 478.6L442.5 476.7L443.9 474.9L445.2 473.2L446.5 471.6L447.8 470.1L448.9 468.7L449.9 467.4L450.9 466.3L451.8 465.2L452.9 464L454.2 462.8L455.8 461.4L457.7 459.9L460.1 458.1L462.7 456.2L465.5 454.3L468.3 452.3L471.1 450.3L473.7 448.4L475.9 446.6L477.7 445L479.3 443.5L480.6 442.1L481.7 440.8L482.7 439.6L483.6 438.4L484.6 437.2L485.7 435.8L487.1 434.2L488.4 432.4L489.8 430.6L491.1 428.8L492.5 427.1L493.9 425.4L495.2 423.8L496.6 422.3L498.1 420.8L499.8 419.2L501.4 417.6L503.1 416.1L504.8 414.6L506.5 413.2L508.2 412L509.7 410.9L511.3 409.9L512.7 409L514.2 408.2L515.7 407.4L517.3 406.7L518.9 406L520.6 405.3L522.3 404.6L524.1 404L525.9 403.4L527.8 402.9L529.7 402.4L531.7 401.9L533.6 401.4L535.5 401L537.3 400.7L539.1 400.3L540.9 400L542.6 399.8L544.3 399.6L546 399.4L547.7 399.3L549.4 399.2L551.2 399.1L553 399.1L554.8 399.1L556.6 399.2L558.5 399.3L560.5 399.4L562.4 399.6L564.3 399.8L566.3 400L568.1 400.1L569.7 400.3L571.2 400.5L572.7 400.7L574.4 400.9L576.3 401.3L578.5 401.7L581.1 402.2L584.2 402.9L587.7 403.7L591.5 404.6L595.6 405.6L599.8 406.6L604.1 407.6L608.3 408.5L612.5 409.4L616.6 410.2L620.8 411L625.1 411.7L629.4 412.5L633.5 413.2L637.4 413.8L641 414.3L644.1 414.8L646.9 415.1L649.4 415.4L651.7 415.6L653.6 415.7L655.3 415.7L656.6 415.7L657.7 415.8L658.6 415.8L659.4 404.2L658.3 404.1L657.1 404L655.8 403.9L654.3 403.8L652.6 403.7L650.7 403.5L648.4 403.2L645.9 402.8L642.9 402.3L639.4 401.7L635.6 401L631.5 400.3L627.3 399.5L623.1 398.7L619 397.9L615 397L611.1 396.2L607 395.2L602.9 394.1L598.7 393.1L594.6 392L590.7 391L587.1 390.2L583.9 389.4L581.1 388.8L578.8 388.3L576.7 387.9L574.9 387.5L573.1 387.2L571.4 386.9L569.6 386.7L567.7 386.4L565.7 386.2L563.6 386L561.5 385.8L559.4 385.7L557.3 385.6L555.1 385.5L553 385.5L550.8 385.5L548.8 385.6L546.7 385.7L544.7 385.9L542.7 386.1L540.7 386.3L538.7 386.6L536.7 386.9L534.7 387.3L532.6 387.8L530.5 388.3L528.3 388.9L526.2 389.5L524 390.1L521.8 390.8L519.7 391.6L517.7 392.4L515.7 393.1L513.8 393.9L511.9 394.7L510 395.6L508.1 396.6L506.2 397.6L504.2 398.8L502.3 400.1L500.3 401.6L498.3 403.2L496.4 404.8L494.5 406.5L492.6 408.3L490.8 410.1L489.1 411.9L487.4 413.7L485.7 415.6L484.1 417.6L482.6 419.5L481.2 421.5L479.9 423.3L478.6 425.1L477.5 426.7L476.3 428.2L475.1 429.6L474.1 430.9L473.2 432.1L472.4 433.1L471.6 434L470.7 435L469.5 436.1L468.1 437.4L466.2 438.9L464 440.7L461.4 442.6L458.6 444.6L455.8 446.7L453.1 448.7L450.5 450.7L448.2 452.6L446.3 454.3L444.7 455.8L443.3 457.3L442.1 458.7L440.9 460.1L439.8 461.4L438.7 462.8L437.5 464.4L436.1 466.1L434.7 468L433.3 469.9L432 471.9L430.6 473.8L429.2 475.7L427.7 477.6L426.3 479.5L424.7 481.4L423.1 483.4L421.5 485.4L419.9 487.3L418.3 489.2L416.7 491.1L415 492.8L413.2 494.6L411.3 496.3L409.3 498L407.1 499.7L404.9 501.4L402.6 503.1L400.4 504.7L398.2 506.3L396.2 507.8L394.3 509.1L392.6 510.3L390.9 511.3L389.2 512.4L387.6 513.4L385.8 514.5L384 515.6L382 516.8L380 518.1L377.9 519.5L375.9 520.8L373.8 522.2L371.7 523.5L369.7 524.8L367.6 525.9L365.5 527.1L363.2 528.2L360.9 529.3L358.6 530.4L356.3 531.4L354 532.3L351.7 533.1L349.5 533.8L347.4 534.4L345.2 534.8L343 535.2L340.8 535.4L338.6 535.5L336.3 535.6L334.1 535.6L331.8 535.5L329.6 535.3L327.4 535L325.2 534.6L322.9 534.2L320.7 533.6L318.3 533L316 532.3L313.6 531.5L311.3 530.7L309 529.9L306.8 529.1L304.5 528.1L302.3 527.2L300 526.1L297.5 525L295 523.9L292.3 522.7L289.5 521.4L286.5 520.1L283.5 518.7L280.4 517.3L277.3 515.9L274.3 514.4L271.3 512.9L268.4 511.4L265.7 509.8L262.9 508.1L260.1 506.3L257.2 504.4L254.3 502.4L251.3 500.5L248.2 498.6L245.1 496.9L242 495.4L239 493.9L236 492.5L232.9 491.2L229.9 489.9L226.8 488.8L223.7 487.7L220.5 486.7L217.3 485.9L214.1 485.2L211 484.6L207.8 484L204.7 483.6L201.6 483.3L198.6 482.9L195.5 482.7L192.2 482.5L188.7 482.4L185.2 482.4L181.8 482.4L178.5 482.5L175.7 482.6L173.3 482.6L171.6 482.7L168.7 483.3L166.3 484.9L164.7 487.4L164.2 490.3L164.8 493.2L166.4 495.6L168.9 497.2Z" fill="#312f4f" stroke="#312f4f" stroke-width="4.4" stroke-linejoin="round"/>
<path d="M318.2 546.6L319.5 548.1L321.3 550.1L323.4 552.4L325.8 555L328.2 557.6L330.5 560.2L332.6 562.6L334.4 564.7L335.9 566.6L337.2 568.3L338.4 569.9L339.5 571.4L340.6 572.9L341.6 574.5L342.6 576.1L343.6 577.8L344.6 579.5L345.5 581.2L346.4 583L347.4 584.9L348.3 586.8L349.2 588.7L350.2 590.7L351.3 592.7L352.2 594.5L353.1 596.4L354 598.4L355 600.4L356.1 602.5L357.3 604.6L358.8 606.8L360.4 608.9L362.1 610.8L363.8 612.7L365.7 614.6L367.7 616.4L369.8 618.2L372.1 619.9L374.4 621.5L376.9 623L379.5 624.5L382.3 625.8L385.2 627.1L388.2 628.3L391.2 629.4L394.2 630.4L397.2 631.3L400.1 632.1L403 632.6L405.9 633L408.7 633.2L411.5 633.3L414.2 633.4L416.8 633.4L419.5 633.3L422.1 633.3L424.9 633.2L427.7 633.2L430.6 633L433.5 632.9L436.5 632.6L439.5 632.3L442.5 632L445.6 631.5L448.7 631L451.7 630.4L454.8 629.7L458 628.9L461 628.1L464.1 627.3L467.1 626.4L470.1 625.5L473 624.5L475.9 623.5L478.8 622.4L481.6 621.3L484.3 620.1L487 619L489.7 617.8L492.4 616.6L495.1 615.4L497.7 614.1L500.4 612.8L502.9 611.6L505.4 610.3L507.9 609L510.4 607.8L512.9 606.6L515.5 605.4L518.1 604.2L520.6 603L523.1 601.8L525.6 600.7L527.9 599.6L530.2 598.7L532.5 598L534.7 597.3L536.9 596.7L539.1 596.2L541.3 595.8L543.5 595.4L545.8 595.1L548.1 594.8L550.5 594.5L552.9 594.4L555.7 594.3L558.6 594.3L561.5 594.3L564.4 594.4L567 594.4L569.2 594.5L570.8 594.5L571.2 581.9L569.6 581.8L567.4 581.7L564.8 581.6L561.9 581.5L558.8 581.4L555.6 581.3L552.5 581.3L549.5 581.5L546.8 581.7L544.2 581.9L541.6 582.2L539 582.6L536.4 583L533.8 583.6L531.1 584.2L528.3 585L525.6 586L522.8 587L520.1 588.2L517.4 589.4L514.7 590.7L512.2 591.9L509.6 593.2L507.1 594.4L504.5 595.6L501.9 596.8L499.4 598.1L496.8 599.4L494.3 600.6L491.8 601.9L489.3 603L486.8 604.2L484.2 605.3L481.6 606.5L479 607.6L476.4 608.7L473.8 609.7L471.2 610.7L468.6 611.6L465.9 612.5L463.2 613.4L460.4 614.2L457.5 615L454.7 615.7L451.8 616.4L449 617L446.2 617.6L443.4 618.1L440.7 618.5L438 618.8L435.3 619.1L432.6 619.3L429.9 619.5L427.2 619.6L424.5 619.7L421.9 619.7L419.2 619.7L416.7 619.8L414.3 619.8L411.9 619.8L409.6 619.6L407.4 619.5L405.2 619.2L402.9 618.7L400.5 618.2L397.9 617.6L395.3 616.9L392.6 616L390.1 615.1L387.6 614.1L385.2 613.1L383.1 612L381.1 610.9L379.2 609.7L377.4 608.4L375.7 607L374 605.6L372.5 604.1L371 602.6L369.6 601.1L368.5 599.7L367.4 598.2L366.5 596.6L365.5 594.9L364.6 593.1L363.6 591.2L362.6 589.3L361.5 587.3L360.6 585.5L359.6 583.6L358.7 581.7L357.8 579.8L356.8 577.8L355.8 575.8L354.7 573.8L353.6 571.8L352.4 570L351.3 568.2L350.2 566.5L349 564.7L347.7 563L346.4 561.2L344.9 559.3L343.2 557.3L341.2 555L338.9 552.5L336.4 549.9L333.8 547.3L331.3 544.8L329.1 542.6L327.2 540.7L325.8 539.4Z" fill="#d95553"/>
<path d="M232.4 502.8L233.9 502.4L235.8 501.7L238.1 500.9L240.6 500.1L243.3 499.1L245.9 498.2L248.5 497.3L250.8 496.5L252.7 495.9L254.6 495.3L256.6 494.8L258.8 494.1L261.2 493.4L263.8 492.4L266.5 491.1L269.4 489.5L272.2 487.5L275 485.3L277.9 483L280.7 480.5L283.4 478L286.1 475.6L288.7 473.2L291.1 471L293.4 468.9L295.6 466.7L297.7 464.6L299.8 462.6L301.8 460.6L303.7 458.6L305.6 456.7L307.6 454.8L309.6 452.9L311.6 451L313.6 449.1L315.5 447.2L317.5 445.4L319.5 443.6L321.4 441.8L323.4 440L325.4 438.2L327.4 436.4L329.4 434.6L331.3 432.8L333.3 431.1L335.2 429.5L337.2 427.8L339.1 426.2L341 424.7L343 423.1L344.9 421.6L346.9 420.1L348.8 418.7L350.8 417.3L352.7 415.9L354.5 414.7L356.4 413.4L358.3 412.2L360 411L361.8 409.9L363.5 408.9L365.1 407.9L366.7 407.1L368.3 406.3L369.9 405.7L371.5 405.1L373.2 404.5L374.9 404L376.7 403.5L378.4 403.1L380.1 402.7L381.6 402.4L382.9 402.1L384 402L385 401.9L386 401.8L387.1 401.7L388.4 401.7L389.9 401.6L391.5 401.5L393.2 401.4L394.9 401.3L396.8 401.2L398.6 401.1L400.5 401L402.5 401L404.3 400.9L406.2 400.8L408.1 400.7L409.9 400.6L411.7 400.5L413.4 400.4L415.2 400.4L416.9 400.4L418.6 400.4L420.4 400.4L422.3 400.4L424.3 400.5L426.3 400.6L428.4 400.7L430.5 400.9L432.6 401.1L434.6 401.4L436.6 401.6L438.6 401.9L440.5 402.2L442.4 402.5L444.3 402.9L446.2 403.3L448 403.7L449.9 404.3L451.7 404.9L453.7 405.7L455.9 406.7L458.3 408L460.6 409.2L462.9 410.5L464.9 411.6L466.7 412.6L468 413.2L472 406.8L470.8 405.9L469.2 404.8L467.3 403.4L465.1 401.9L462.8 400.3L460.4 398.8L458 397.4L455.8 396.1L453.7 395L451.6 394L449.6 393.1L447.5 392.3L445.5 391.5L443.5 390.7L441.5 390L439.4 389.4L437.2 388.7L435 388.1L432.8 387.6L430.5 387L428.2 386.6L426 386.1L423.8 385.7L421.6 385.4L419.5 385.2L417.3 385L415.3 384.9L413.3 384.8L411.4 384.8L409.5 384.8L407.7 384.8L405.8 384.8L403.9 384.8L401.9 384.9L399.9 384.9L397.9 385L395.9 385.1L394 385.2L392.2 385.4L390.5 385.5L389.1 385.5L387.7 385.6L386.4 385.7L385 385.7L383.5 385.8L381.9 386L380.2 386.3L378.4 386.6L376.6 387L374.7 387.4L372.7 387.9L370.6 388.5L368.4 389.1L366.2 389.9L363.9 390.7L361.7 391.7L359.5 392.7L357.4 393.8L355.4 395L353.3 396.2L351.3 397.4L349.4 398.7L347.4 400L345.5 401.3L343.4 402.7L341.4 404.2L339.3 405.7L337.2 407.3L335.1 408.8L333.1 410.5L331 412.1L328.9 413.8L326.8 415.5L324.8 417.2L322.7 419L320.7 420.8L318.6 422.6L316.6 424.4L314.6 426.2L312.6 428L310.6 429.9L308.5 431.7L306.5 433.6L304.5 435.5L302.5 437.4L300.5 439.3L298.5 441.2L296.4 443.2L294.3 445.2L292.3 447.2L290.3 449.2L288.4 451.2L286.4 453.2L284.4 455.2L282.3 457.2L280.1 459.2L277.7 461.4L275.2 463.7L272.6 466.1L270 468.5L267.4 470.7L265 472.7L262.7 474.5L260.6 475.9L258.9 477L257.3 477.9L255.6 478.7L253.9 479.3L252 480L249.9 480.7L247.6 481.5L245.2 482.5L242.9 483.6L240.4 484.8L237.8 486.1L235.3 487.3L232.9 488.5L230.7 489.5L228.9 490.5L227.6 491.2Z" fill="#d95553"/>
<path d="M171.8 497.7L173.6 497.7L176.1 497.7L178.9 497.6L182 497.5L185.2 497.5L188.5 497.5L191.6 497.6L194.5 497.7L197.3 497.9L200.1 498.2L203 498.4L205.8 498.8L208.5 499.1L211.3 499.6L214 500.1L216.7 500.8L219.4 501.5L222.1 502.3L224.9 503.3L227.7 504.3L230.5 505.4L233.3 506.5L236.1 507.8L238.9 509.1L241.7 510.4L244.4 512L247.3 513.6L250.2 515.4L253.1 517.2L256.2 519.1L259.4 520.9L262.6 522.6L265.8 524.1L269.1 525.6L272.3 527.1L275.6 528.4L278.8 529.7L281.9 531L284.9 532.2L287.7 533.3L290.4 534.5L292.9 535.5L295.4 536.6L297.8 537.6L300.3 538.6L302.7 539.5L305.2 540.4L307.7 541.3L310.2 542.1L312.7 542.9L315.3 543.6L317.8 544.3L320.4 545L323.1 545.5L325.8 546L328.4 546.3L331.1 546.5L333.7 546.7L336.4 546.7L339.1 546.6L341.7 546.5L344.4 546.2L347.1 545.8L349.8 545.2L352.6 544.5L355.3 543.6L358 542.7L360.6 541.6L363.2 540.5L365.7 539.3L368.1 538.1L370.5 536.9L372.9 535.7L375.3 534.3L377.6 532.9L379.8 531.5L382 530.1L384 528.7L386 527.4L388 526.2L389.8 525L391.6 524L393.3 522.9L395.1 521.8L396.9 520.7L398.7 519.5L400.6 518.2L402.6 516.8L404.7 515.3L406.9 513.7L409.2 512L411.6 510.3L414 508.4L416.3 506.5L418.6 504.6L420.8 502.6L422.9 500.6L424.8 498.6L426.7 496.5L428.4 494.5L430.1 492.4L431.8 490.4L433.4 488.4L434.9 486.5L436.5 484.5L438.1 482.5L439.6 480.5L441.1 478.6L442.5 476.7L443.9 474.9L445.2 473.2L446.5 471.6L447.8 470.1L448.9 468.7L449.9 467.4L450.9 466.3L451.8 465.2L452.9 464L454.2 462.8L455.8 461.4L457.7 459.9L460.1 458.1L462.7 456.2L465.5 454.3L468.3 452.3L471.1 450.3L473.7 448.4L475.9 446.6L477.7 445L479.3 443.5L480.6 442.1L481.7 440.8L482.7 439.6L483.6 438.4L484.6 437.2L485.7 435.8L487.1 434.2L488.4 432.4L489.8 430.6L491.1 428.8L492.5 427.1L493.9 425.4L495.2 423.8L496.6 422.3L498.1 420.8L499.8 419.2L501.4 417.6L503.1 416.1L504.8 414.6L506.5 413.2L508.2 412L509.7 410.9L511.3 409.9L512.7 409L514.2 408.2L515.7 407.4L517.3 406.7L518.9 406L520.6 405.3L522.3 404.6L524.1 404L525.9 403.4L527.8 402.9L529.7 402.4L531.7 401.9L533.6 401.4L535.5 401L537.3 400.7L539.1 400.3L540.9 400L542.6 399.8L544.3 399.6L546 399.4L547.7 399.3L549.4 399.2L551.2 399.1L553 399.1L554.8 399.1L556.6 399.2L558.5 399.3L560.5 399.4L562.4 399.6L564.3 399.8L566.3 400L568.1 400.1L569.7 400.3L571.2 400.5L572.7 400.7L574.4 400.9L576.3 401.3L578.5 401.7L581.1 402.2L584.2 402.9L587.7 403.7L591.5 404.6L595.6 405.6L599.8 406.6L604.1 407.6L608.3 408.5L612.5 409.4L616.6 410.2L620.8 411L625.1 411.7L629.4 412.5L633.5 413.2L637.4 413.8L641 414.3L644.1 414.8L646.9 415.1L649.4 415.4L651.7 415.6L653.6 415.7L655.3 415.7L656.6 415.7L657.7 415.8L658.6 415.8L659.4 404.2L658.3 404.1L657.1 404L655.8 403.9L654.3 403.8L652.6 403.7L650.7 403.5L648.4 403.2L645.9 402.8L642.9 402.3L639.4 401.7L635.6 401L631.5 400.3L627.3 399.5L623.1 398.7L619 397.9L615 397L611.1 396.2L607 395.2L602.9 394.1L598.7 393.1L594.6 392L590.7 391L587.1 390.2L583.9 389.4L581.1 388.8L578.8 388.3L576.7 387.9L574.9 387.5L573.1 387.2L571.4 386.9L569.6 386.7L567.7 386.4L565.7 386.2L563.6 386L561.5 385.8L559.4 385.7L557.3 385.6L555.1 385.5L553 385.5L550.8 385.5L548.8 385.6L546.7 385.7L544.7 385.9L542.7 386.1L540.7 386.3L538.7 386.6L536.7 386.9L534.7 387.3L532.6 387.8L530.5 388.3L528.3 388.9L526.2 389.5L524 390.1L521.8 390.8L519.7 391.6L517.7 392.4L515.7 393.1L513.8 393.9L511.9 394.7L510 395.6L508.1 396.6L506.2 397.6L504.2 398.8L502.3 400.1L500.3 401.6L498.3 403.2L496.4 404.8L494.5 406.5L492.6 408.3L490.8 410.1L489.1 411.9L487.4 413.7L485.7 415.6L484.1 417.6L482.6 419.5L481.2 421.5L479.9 423.3L478.6 425.1L477.5 426.7L476.3 428.2L475.1 429.6L474.1 430.9L473.2 432.1L472.4 433.1L471.6 434L470.7 435L469.5 436.1L468.1 437.4L466.2 438.9L464 440.7L461.4 442.6L458.6 444.6L455.8 446.7L453.1 448.7L450.5 450.7L448.2 452.6L446.3 454.3L444.7 455.8L443.3 457.3L442.1 458.7L440.9 460.1L439.8 461.4L438.7 462.8L437.5 464.4L436.1 466.1L434.7 468L433.3 469.9L432 471.9L430.6 473.8L429.2 475.7L427.7 477.6L426.3 479.5L424.7 481.4L423.1 483.4L421.5 485.4L419.9 487.3L418.3 489.2L416.7 491.1L415 492.8L413.2 494.6L411.3 496.3L409.3 498L407.1 499.7L404.9 501.4L402.6 503.1L400.4 504.7L398.2 506.3L396.2 507.8L394.3 509.1L392.6 510.3L390.9 511.3L389.2 512.4L387.6 513.4L385.8 514.5L384 515.6L382 516.8L380 518.1L377.9 519.5L375.9 520.8L373.8 522.2L371.7 523.5L369.7 524.8L367.6 525.9L365.5 527.1L363.2 528.2L360.9 529.3L358.6 530.4L356.3 531.4L354 532.3L351.7 533.1L349.5 533.8L347.4 534.4L345.2 534.8L343 535.2L340.8 535.4L338.6 535.5L336.3 535.6L334.1 535.6L331.8 535.5L329.6 535.3L327.4 535L325.2 534.6L322.9 534.2L320.7 533.6L318.3 533L316 532.3L313.6 531.5L311.3 530.7L309 529.9L306.8 529.1L304.5 528.1L302.3 527.2L300 526.1L297.5 525L295 523.9L292.3 522.7L289.5 521.4L286.5 520.1L283.5 518.7L280.4 517.3L277.3 515.9L274.3 514.4L271.3 512.9L268.4 511.4L265.7 509.8L262.9 508.1L260.1 506.3L257.2 504.4L254.3 502.4L251.3 500.5L248.2 498.6L245.1 496.9L242 495.4L239 493.9L236 492.5L232.9 491.2L229.9 489.9L226.8 488.8L223.7 487.7L220.5 486.7L217.3 485.9L214.1 485.2L211 484.6L207.8 484L204.7 483.6L201.6 483.3L198.6 482.9L195.5 482.7L192.2 482.5L188.7 482.4L185.2 482.4L181.8 482.4L178.5 482.5L175.7 482.6L173.3 482.6L171.6 482.7L168.7 483.3L166.3 484.9L164.7 487.4L164.2 490.3L164.8 493.2L166.4 495.6L168.9 497.2Z" fill="#d95553"/>
</g>
<g id="cross">
<path d="M690 430 L741 452 L774 506 L780 575 L757 625 L720 660 L680 668 L651 660 L618 640 L607 611 L590 549 L605 489 L639 445 Z" fill="#dd6865" stroke="#dd6865" stroke-width="10" stroke-linejoin="round"/>
<path d="M779.3 459.4 L749.3 459.4" stroke="#312f4f" stroke-width="20.6" fill="none"/>
<path d="M779.3 459.4 L749.3 459.4" stroke="#d95553" stroke-width="16.2" fill="none"/>
<path d="M792.4 612.3 L762.4 612.3" stroke="#312f4f" stroke-width="20.8" fill="none"/>
<path d="M792.4 612.3 L762.4 612.3" stroke="#d95553" stroke-width="16.4" fill="none"/>
<path d="M744.2 668.2 L714.2 668.2" stroke="#312f4f" stroke-width="20.8" fill="none"/>
<path d="M744.2 668.2 L714.2 668.2" stroke="#d95553" stroke-width="16.4" fill="none"/>
<path d="M714 424.2 L740 423.2 L740 445 L714 445 Z" fill="#dd6865"/>
<path d="M714 424.2 L740 423.2" stroke="#312f4f" stroke-width="2.2" fill="none"/>
<g transform="rotate(0 690.6 436)">
<ellipse cx="690.6" cy="436" rx="25.6" ry="33.8" fill="#f9d3c8" stroke="#312f4f" stroke-width="2.2"/>
<ellipse cx="690.6" cy="436" rx="19.3" ry="27.5" fill="url(#dots)"/>
<ellipse clip-path="url(#cc8)" cx="690.6" cy="462" rx="22" ry="12" fill="#9a72bd" stroke="#312f4f" stroke-width="2.2"/>
<ellipse cx="690.6" cy="436" rx="19.3" ry="27.5" fill="none" stroke="#312f4f" stroke-width="2.2"/>
</g>
<g transform="rotate(0 638.8 445)">
<ellipse cx="638.8" cy="445" rx="25.8" ry="30.5" fill="#f9d3c8" stroke="#312f4f" stroke-width="2.2"/>
<ellipse cx="638.8" cy="445" rx="19.5" ry="24.2" fill="url(#dots)"/>
<ellipse cx="638.8" cy="445" rx="19.5" ry="24.2" fill="none" stroke="#312f4f" stroke-width="2.2"/>
</g>
<g transform="rotate(-12 741.5 453.7)">
<ellipse cx="741.5" cy="453.7" rx="26" ry="31.5" fill="#f9d3c8" stroke="#312f4f" stroke-width="2.2"/>
<ellipse cx="741.5" cy="453.7" rx="19.7" ry="25.2" fill="url(#dots)"/>
<ellipse cx="741.5" cy="453.7" rx="19.7" ry="25.2" fill="none" stroke="#312f4f" stroke-width="2.2"/>
</g>
<g transform="rotate(0 774 506)">
<ellipse cx="774" cy="506" rx="26.5" ry="34" fill="#f9d3c8" stroke="#312f4f" stroke-width="2.2"/>
<ellipse cx="774" cy="506" rx="20.2" ry="27.7" fill="url(#dots)"/>
<ellipse clip-path="url(#cc11)" cx="774" cy="482" rx="22" ry="13" fill="#9a72bd" stroke="#312f4f" stroke-width="2.2"/>
<ellipse cx="774" cy="506" rx="20.2" ry="27.7" fill="none" stroke="#312f4f" stroke-width="2.2"/>
</g>
<g transform="rotate(0 721 507)">
<ellipse cx="721" cy="507" rx="25" ry="27" fill="#f9d3c8" stroke="#312f4f" stroke-width="2.2"/>
<ellipse cx="721" cy="507" rx="18.7" ry="20.7" fill="url(#dots)"/>
<ellipse cx="721" cy="507" rx="18.7" ry="20.7" fill="none" stroke="#312f4f" stroke-width="2.2"/>
</g>
<g transform="rotate(-14 667.9 491.9)">
<ellipse cx="667.9" cy="491.9" rx="29" ry="23.5" fill="#f9d3c8" stroke="#312f4f" stroke-width="2.2"/>
<ellipse cx="667.9" cy="491.9" rx="22.7" ry="17.2" fill="url(#dots)"/>
<ellipse cx="667.9" cy="491.9" rx="22.7" ry="17.2" fill="none" stroke="#312f4f" stroke-width="2.2"/>
</g>
<g transform="rotate(-24 605 488.7)">
<ellipse cx="605" cy="488.7" rx="27.5" ry="34" fill="#f9d3c8" stroke="#312f4f" stroke-width="2.2"/>
<ellipse cx="605" cy="488.7" rx="21.2" ry="27.7" fill="url(#dots)"/>
<ellipse clip-path="url(#cc14)" cx="585" cy="494.7" rx="12" ry="22" fill="#9a72bd" stroke="#312f4f" stroke-width="2.2"/>
<ellipse cx="605" cy="488.7" rx="21.2" ry="27.7" fill="none" stroke="#312f4f" stroke-width="2.2"/>
</g>
<g transform="rotate(0 590.4 549.4)">
<ellipse cx="590.4" cy="549.4" rx="25.9" ry="31.9" fill="#f9d3c8" stroke="#312f4f" stroke-width="2.2"/>
<ellipse cx="590.4" cy="549.4" rx="19.6" ry="25.6" fill="url(#dots)"/>
<ellipse cx="590.4" cy="549.4" rx="19.6" ry="25.6" fill="none" stroke="#312f4f" stroke-width="2.2"/>
</g>
<g transform="rotate(2 636.6 551.6)">
<ellipse cx="636.6" cy="551.6" rx="19.6" ry="39.6" fill="#f9d3c8" stroke="#312f4f" stroke-width="2.2"/>
<ellipse cx="636.6" cy="551.6" rx="13.3" ry="33.3" fill="url(#dots)"/>
<ellipse cx="636.6" cy="551.6" rx="13.3" ry="33.3" fill="none" stroke="#312f4f" stroke-width="2.2"/>
</g>
<g transform="rotate(0 780 575)">
<ellipse cx="780" cy="575" rx="24" ry="25" fill="#f9d3c8" stroke="#312f4f" stroke-width="2.2"/>
<ellipse cx="780" cy="575" rx="17.7" ry="18.7" fill="url(#dots)"/>
<ellipse cx="780" cy="575" rx="17.7" ry="18.7" fill="none" stroke="#312f4f" stroke-width="2.2"/>
</g>
<g transform="rotate(0 726 582)">
<ellipse cx="726" cy="582" rx="23" ry="27" fill="#f9d3c8" stroke="#312f4f" stroke-width="2.2"/>
<ellipse cx="726" cy="582" rx="16.7" ry="20.7" fill="url(#dots)"/>
<ellipse cx="726" cy="582" rx="16.7" ry="20.7" fill="none" stroke="#312f4f" stroke-width="2.2"/>
</g>
<g transform="rotate(30 677 600)">
<ellipse cx="677" cy="600" rx="33" ry="23.5" fill="#f9d3c8" stroke="#312f4f" stroke-width="2.2"/>
<ellipse cx="677" cy="600" rx="26.7" ry="17.2" fill="url(#dots)"/>
<ellipse clip-path="url(#cc19)" cx="701" cy="604" rx="12" ry="14" fill="#9a72bd" stroke="#312f4f" stroke-width="2.2"/>
<ellipse cx="677" cy="600" rx="26.7" ry="17.2" fill="none" stroke="#312f4f" stroke-width="2.2"/>
</g>
<g transform="rotate(0 607 610.4)">
<ellipse cx="607" cy="610.4" rx="26.8" ry="31.2" fill="#f9d3c8" stroke="#312f4f" stroke-width="2.2"/>
<ellipse cx="607" cy="610.4" rx="20.5" ry="24.9" fill="url(#dots)"/>
<ellipse clip-path="url(#cc20)" cx="607" cy="637.4" rx="24" ry="15" fill="#9a72bd" stroke="#312f4f" stroke-width="2.2"/>
<ellipse cx="607" cy="610.4" rx="20.5" ry="24.9" fill="none" stroke="#312f4f" stroke-width="2.2"/>
</g>
<g transform="rotate(8 756.8 625)">
<ellipse cx="756.8" cy="625" rx="27.5" ry="31.3" fill="#f9d3c8" stroke="#312f4f" stroke-width="2.2"/>
<ellipse cx="756.8" cy="625" rx="21.2" ry="25" fill="url(#dots)"/>
<ellipse cx="756.8" cy="625" rx="21.2" ry="25" fill="none" stroke="#312f4f" stroke-width="2.2"/>
</g>
<g transform="rotate(0 650.7 649.5)">
<ellipse cx="650.7" cy="649.5" rx="27.5" ry="30.4" fill="#f9d3c8" stroke="#312f4f" stroke-width="2.2"/>
<ellipse cx="650.7" cy="649.5" rx="21.2" ry="24.1" fill="url(#dots)"/>
<ellipse cx="650.7" cy="649.5" rx="21.2" ry="24.1" fill="none" stroke="#312f4f" stroke-width="2.2"/>
</g>
<g transform="rotate(0 708 654.2)">
<ellipse cx="708" cy="654.2" rx="28.3" ry="30" fill="#f9d3c8" stroke="#312f4f" stroke-width="2.2"/>
<ellipse cx="708" cy="654.2" rx="22" ry="23.7" fill="url(#dots)"/>
<ellipse cx="708" cy="654.2" rx="22" ry="23.7" fill="none" stroke="#312f4f" stroke-width="2.2"/>
</g>
<ellipse cx="660.2" cy="410" rx="7.6" ry="8.4" fill="#d8504f" stroke="#312f4f" stroke-width="2.2"/>
<ellipse cx="779.3" cy="459.4" rx="7.9" ry="9.2" fill="#d8504f" stroke="#312f4f" stroke-width="2.2"/>
<ellipse cx="708.3" cy="470.3" rx="7.6" ry="7.8" fill="#d8504f" stroke="#312f4f" stroke-width="2.2"/>
<ellipse cx="576.3" cy="587.8" rx="7.9" ry="8.4" fill="#d8504f" stroke="#312f4f" stroke-width="2.2"/>
<ellipse cx="792.4" cy="612.3" rx="8.1" ry="9.3" fill="#d8504f" stroke="#312f4f" stroke-width="2.2"/>
<ellipse cx="744.2" cy="668.2" rx="8.1" ry="9.3" fill="#d8504f" stroke="#312f4f" stroke-width="2.2"/>
</g>
<g id="ext">
<path d="M898.7 511.8 L686 511.8 C666 511.8 656 525.8 656 545 C656 564.2 666 578.2 686 578.2 L898.7 578.2 Z" fill="#f9d3c8" stroke="#312f4f" stroke-width="2.2"/>
<g clip-path="url(#extc)">
<rect x="650" y="518" width="260" height="27.2" fill="#ec8b80"/>
<rect x="650" y="545.2" width="260" height="26.8" fill="url(#gext)"/>
<rect x="678.2" y="520.8" width="23.7" height="1.9" rx="0.9" fill="#c44d47"/>
<rect x="711.9" y="520.8" width="25.1" height="1.9" rx="0.9" fill="#c44d47"/>
<rect x="747" y="520.8" width="25.1" height="1.9" rx="0.9" fill="#c44d47"/>
<rect x="782.2" y="520.8" width="25.2" height="1.9" rx="0.9" fill="#c44d47"/>
<rect x="817.3" y="520.8" width="25.1" height="1.9" rx="0.9" fill="#c44d47"/>
<rect x="852.5" y="520.8" width="25.1" height="1.9" rx="0.9" fill="#c44d47"/>
<rect x="887.6" y="520.8" width="7.4" height="1.9" rx="0.9" fill="#c44d47"/>
<rect x="674.5" y="525.6" width="24.3" height="1.9" rx="0.9" fill="#c44d47"/>
<rect x="708.8" y="525.6" width="25.1" height="1.9" rx="0.9" fill="#c44d47"/>
<rect x="744" y="525.6" width="25.1" height="1.9" rx="0.9" fill="#c44d47"/>
<rect x="779.1" y="525.6" width="25.2" height="1.9" rx="0.9" fill="#c44d47"/>
<rect x="814.3" y="525.6" width="25.1" height="1.9" rx="0.9" fill="#c44d47"/>
<rect x="849.4" y="525.6" width="25.1" height="1.9" rx="0.9" fill="#c44d47"/>
<rect x="884.6" y="525.6" width="10.4" height="1.9" rx="0.9" fill="#c44d47"/>
<rect x="671.6" y="530.8" width="24.7" height="1.9" rx="0.9" fill="#c44d47"/>
<rect x="706.3" y="530.8" width="25.1" height="1.9" rx="0.9" fill="#c44d47"/>
<rect x="741.5" y="530.8" width="25.1" height="1.9" rx="0.9" fill="#c44d47"/>
<rect x="776.6" y="530.8" width="25.2" height="1.9" rx="0.9" fill="#c44d47"/>
<rect x="811.8" y="530.8" width="25.1" height="1.9" rx="0.9" fill="#c44d47"/>
<rect x="846.9" y="530.8" width="25.1" height="1.9" rx="0.9" fill="#c44d47"/>
<rect x="882.1" y="530.8" width="12.9" height="1.9" rx="0.9" fill="#c44d47"/>
<rect x="669.6" y="536.2" width="25" height="1.9" rx="0.9" fill="#c44d47"/>
<rect x="704.6" y="536.2" width="25.1" height="1.9" rx="0.9" fill="#c44d47"/>
<rect x="739.8" y="536.2" width="25.1" height="1.9" rx="0.9" fill="#c44d47"/>
<rect x="774.9" y="536.2" width="25.2" height="1.9" rx="0.9" fill="#c44d47"/>
<rect x="810.1" y="536.2" width="25.1" height="1.9" rx="0.9" fill="#c44d47"/>
<rect x="845.2" y="536.2" width="25.1" height="1.9" rx="0.9" fill="#c44d47"/>
<rect x="880.4" y="536.2" width="14.6" height="1.9" rx="0.9" fill="#c44d47"/>
<rect x="668.6" y="541.6" width="25.2" height="1.9" rx="0.9" fill="#c44d47"/>
<rect x="703.8" y="541.6" width="25.1" height="1.9" rx="0.9" fill="#c44d47"/>
<rect x="738.9" y="541.6" width="25.1" height="1.9" rx="0.9" fill="#c44d47"/>
<rect x="774.1" y="541.6" width="25.2" height="1.9" rx="0.9" fill="#c44d47"/>
<rect x="809.2" y="541.6" width="25.1" height="1.9" rx="0.9" fill="#c44d47"/>
<rect x="844.4" y="541.6" width="25.1" height="1.9" rx="0.9" fill="#c44d47"/>
<rect x="879.5" y="541.6" width="15.5" height="1.9" rx="0.9" fill="#c44d47"/>
<rect x="668.7" y="547.2" width="25.2" height="1.9" rx="0.9" fill="#a93937"/>
<rect x="703.9" y="547.2" width="25.1" height="1.9" rx="0.9" fill="#a93937"/>
<rect x="739" y="547.2" width="25.1" height="1.9" rx="0.9" fill="#a93937"/>
<rect x="774.2" y="547.2" width="25.2" height="1.9" rx="0.9" fill="#a93937"/>
<rect x="809.3" y="547.2" width="25.1" height="1.9" rx="0.9" fill="#a93937"/>
<rect x="844.5" y="547.2" width="25.1" height="1.9" rx="0.9" fill="#a93937"/>
<rect x="879.6" y="547.2" width="15.4" height="1.9" rx="0.9" fill="#a93937"/>
<rect x="669.8" y="552.6" width="25" height="1.9" rx="0.9" fill="#a93937"/>
<rect x="704.8" y="552.6" width="25.1" height="1.9" rx="0.9" fill="#a93937"/>
<rect x="740" y="552.6" width="25.1" height="1.9" rx="0.9" fill="#a93937"/>
<rect x="775.1" y="552.6" width="25.2" height="1.9" rx="0.9" fill="#a93937"/>
<rect x="810.3" y="552.6" width="25.1" height="1.9" rx="0.9" fill="#a93937"/>
<rect x="845.4" y="552.6" width="25.1" height="1.9" rx="0.9" fill="#a93937"/>
<rect x="880.6" y="552.6" width="14.4" height="1.9" rx="0.9" fill="#a93937"/>
<rect x="671.9" y="557.8" width="24.7" height="1.9" rx="0.9" fill="#a93937"/>
<rect x="706.6" y="557.8" width="25.1" height="1.9" rx="0.9" fill="#a93937"/>
<rect x="741.7" y="557.8" width="25.1" height="1.9" rx="0.9" fill="#a93937"/>
<rect x="776.9" y="557.8" width="25.2" height="1.9" rx="0.9" fill="#a93937"/>
<rect x="812" y="557.8" width="25.1" height="1.9" rx="0.9" fill="#a93937"/>
<rect x="847.2" y="557.8" width="25.1" height="1.9" rx="0.9" fill="#a93937"/>
<rect x="882.3" y="557.8" width="12.7" height="1.9" rx="0.9" fill="#a93937"/>
<rect x="674.9" y="563" width="24.2" height="1.9" rx="0.9" fill="#a93937"/>
<rect x="709.1" y="563" width="25.1" height="1.9" rx="0.9" fill="#a93937"/>
<rect x="744.3" y="563" width="25.1" height="1.9" rx="0.9" fill="#a93937"/>
<rect x="779.4" y="563" width="25.2" height="1.9" rx="0.9" fill="#a93937"/>
<rect x="814.6" y="563" width="25.1" height="1.9" rx="0.9" fill="#a93937"/>
<rect x="849.7" y="563" width="25.1" height="1.9" rx="0.9" fill="#a93937"/>
<rect x="884.9" y="563" width="10.1" height="1.9" rx="0.9" fill="#a93937"/>
<rect x="678.8" y="568" width="23.6" height="1.9" rx="0.9" fill="#a93937"/>
<rect x="712.4" y="568" width="25.1" height="1.9" rx="0.9" fill="#a93937"/>
<rect x="747.5" y="568" width="25.1" height="1.9" rx="0.9" fill="#a93937"/>
<rect x="782.7" y="568" width="25.2" height="1.9" rx="0.9" fill="#a93937"/>
<rect x="817.8" y="568" width="25.1" height="1.9" rx="0.9" fill="#a93937"/>
<rect x="853" y="568" width="25.1" height="1.9" rx="0.9" fill="#a93937"/>
<rect x="888.1" y="568" width="6.9" height="1.9" rx="0.9" fill="#a93937"/>
</g>
<path d="M898.7 518 L688.7 518 C670.7 518 662.7 529 662.7 545 C662.7 561 670.7 572 688.7 572 L898.7 572 Z" fill="none" stroke="#312f4f" stroke-width="2.2"/>
<ellipse cx="898.8" cy="545.1" rx="28.9" ry="33.9" fill="#f9d3c8" stroke="#312f4f" stroke-width="2.2"/>
<ellipse cx="899" cy="545.6" rx="22.6" ry="26.8" fill="#d0564f" stroke="#312f4f" stroke-width="2.2"/>
<ellipse cx="895.4" cy="526.4" rx="3.6" ry="3.9" fill="#f08c83"/>
<ellipse cx="905.5" cy="527.4" rx="3.6" ry="3.9" fill="#f08c83"/>
<ellipse cx="886" cy="530.5" rx="3.6" ry="3.9" fill="#f08c83"/>
<ellipse cx="913.1" cy="534.7" rx="3.6" ry="3.9" fill="#f08c83"/>
<ellipse cx="893.9" cy="536" rx="3.6" ry="3.9" fill="#f08c83"/>
<ellipse cx="903.8" cy="536.2" rx="3.6" ry="3.9" fill="#f08c83"/>
<ellipse cx="881.4" cy="540.4" rx="3.6" ry="3.9" fill="#f08c83"/>
<ellipse cx="888.6" cy="544.6" rx="3.6" ry="3.9" fill="#f08c83"/>
<ellipse cx="898" cy="545.1" rx="3.6" ry="3.9" fill="#f08c83"/>
<ellipse cx="907.9" cy="545.1" rx="3.6" ry="3.9" fill="#f08c83"/>
<ellipse cx="916.2" cy="546.7" rx="3.6" ry="3.9" fill="#f08c83"/>
<ellipse cx="882.4" cy="551.9" rx="3.6" ry="3.9" fill="#f08c83"/>
<ellipse cx="893.3" cy="554.5" rx="3.6" ry="3.9" fill="#f08c83"/>
<ellipse cx="903.2" cy="554" rx="3.6" ry="3.9" fill="#f08c83"/>
<ellipse cx="912.1" cy="558.1" rx="3.6" ry="3.9" fill="#f08c83"/>
<ellipse cx="887.1" cy="560.7" rx="3.6" ry="3.9" fill="#f08c83"/>
<ellipse cx="895.9" cy="565.4" rx="3.6" ry="3.9" fill="#f08c83"/>
<ellipse cx="904.8" cy="564.4" rx="3.6" ry="3.9" fill="#f08c83"/>
<ellipse cx="732" cy="521.5" rx="27.5" ry="12.7" fill="#8f68b4" stroke="#312f4f" stroke-width="2.2"/>
<ellipse cx="733.5" cy="523.5" rx="23.5" ry="8.7" fill="url(#gnu)"/>
<ellipse cx="824.2" cy="553" rx="28.3" ry="13.3" fill="#8f68b4" stroke="#312f4f" stroke-width="2.2"/>
<ellipse cx="825.7" cy="555" rx="24.3" ry="9.3" fill="url(#gnu)"/>
</g>
<g id="nerve">
<path d="M406.25 210 L398.75 250 L393.5 285 L391.5 303 L403 348 L453 352 L471 303 L473.75 262.5 L480 228 Z" fill="#fdc156"/>
<path d="M406.2 210C405 216.7 400.9 237.5 398.8 250C396.6 262.5 394.6 276.2 393.5 285C392.4 293.8 392.7 296.3 392 303C391.3 309.7 390.5 318.1 389.5 325C388.5 331.9 388.7 335.5 386.2 344.5C383.7 353.5 377.7 371.1 374.7 379C371.7 386.9 370.8 388.2 368.4 391.6C365.9 395 362.9 397.2 360 399.5C357.1 401.8 355.3 403.3 351.2 405.6C347.2 407.9 339.5 411.8 335.6 413.4C331.7 415 331.5 414.9 327.6 415.2C323.7 415.5 315.8 415.2 312.4 415.1C309 415 308.2 414.6 307.4 414.6A15 15 0 1 0 306.6 431.7C307.5 431.7 307.3 431.3 311.7 431.7C316 432 332 431.2 333 433.8C334 436.4 320.7 444.7 317.5 447.5C314.2 450.2 314.1 450 313.4 450.5A14.8 14.8 0 1 0 324.3 463.3C324.9 462.7 324.7 462.4 327.9 459.8C331.2 457.2 341.6 446.1 344 447.5C346.4 448.9 342.7 463.9 342.3 468.2C342 472.5 341.8 472.3 341.7 473.2A14.8 14.8 0 1 0 358.8 474.4C358.9 473.6 358.6 472 358.9 469.4C359.2 466.7 359.1 464.2 360.4 458.5C361.7 452.8 364 442.8 366.6 435C369.2 427.2 373 418.1 376 411.6C379 405.1 380.5 404.3 384.5 396C388.5 387.7 395.8 373.2 400 362C404.2 350.8 407.5 340 409.5 328.8C411.5 317.6 411.6 300.3 412 294.6" fill="#fdc156" stroke="#312f4f" stroke-width="2.2" stroke-linejoin="round" stroke-linecap="round"/>
<circle cx="293.9" cy="421.6" r="8.4" fill="#fddb95"/>
<circle cx="293.1" cy="420.6" r="5.4" fill="#fee2a6" opacity="0.7"/>
<circle cx="308.8" cy="463.8" r="8.3" fill="#fddb95"/>
<circle cx="308" cy="462.8" r="5.3" fill="#fee2a6" opacity="0.7"/>
<circle cx="348.6" cy="484.8" r="8.3" fill="#fddb95"/>
<circle cx="347.8" cy="483.8" r="5.3" fill="#fee2a6" opacity="0.7"/>
<path d="M454 313.2C455.3 319.3 459.2 338.9 462 350C464.8 361.1 467.9 372.4 470.5 380C473.1 387.6 474.8 389.9 477.5 395.6C480.2 401.3 483.8 407.9 486.9 414.4C490 420.9 493.6 427.4 496.2 434.7C498.9 442 501.2 452.1 502.5 458C503.8 463.9 503.7 467.2 503.9 470.1C504.2 472.9 504 474.3 504 475.1A14.6 14.6 0 1 0 521.1 473.9C521 473 520.8 473.2 520.5 468.9C520.1 464.6 516.2 449 519 447.8C521.8 446.6 533.4 458.6 537 461.4C540.6 464.3 540 464.3 540.6 464.9A14.2 14.2 0 1 0 551.6 452.2C550.9 451.7 551 452.1 547.6 449.1C544.2 446.2 530.6 437.3 531.4 434.4C532.2 431.5 548.2 431.9 552.6 431.5C557 431 556.8 431.5 557.6 431.5A14.6 14.6 0 1 0 556.6 414.3C555.8 414.4 555.5 414.8 551.6 414.9C547.8 414.9 538.8 415.5 533.8 414.6C528.7 413.7 524.6 412.9 521.2 409.7C517.9 406.5 516.5 400.6 513.4 395.6C510.3 390.7 506.1 385.6 502.5 380C498.9 374.4 496 369.8 492 362C488 354.2 481.9 343.3 478.4 333C474.9 322.7 471.8 311.8 471 300C470.2 288.2 472.2 274.5 473.8 262.5C475.2 250.5 479 233.8 480 228" fill="#fdc156" stroke="#312f4f" stroke-width="2.2" stroke-linejoin="round" stroke-linecap="round"/>
<path d="M474.5 315C475.4 320.8 477.4 339.2 480 350C482.6 360.8 485.2 371.6 490 380C494.8 388.4 505.6 396.9 508.8 400.3" fill="none" stroke="#312f4f" stroke-width="2.2" stroke-linecap="round"/>
<circle cx="512.6" cy="485.2" r="8.2" fill="#fddb95"/>
<circle cx="511.8" cy="484.2" r="5.3" fill="#fee2a6" opacity="0.7"/>
<circle cx="554" cy="465" r="8" fill="#fddb95"/>
<circle cx="553.2" cy="464" r="5.1" fill="#fee2a6" opacity="0.7"/>
<circle cx="568.1" cy="421.2" r="8.2" fill="#fddb95"/>
<circle cx="567.3" cy="420.2" r="5.3" fill="#fee2a6" opacity="0.7"/>
<path d="M447.2 331.8C447.8 336.1 449.9 350 451 358C452.1 366 453.4 371.1 454 380C454.6 388.9 454.9 400.8 454.8 411.2C454.7 421.7 454.1 434.4 453.3 442.5C452.6 450.6 451.3 455.8 450.3 460C449.3 464.2 450.3 462.9 447.2 467.8C444.1 472.8 437 482.3 431.6 489.7C426.2 497.1 418 507.6 414.5 511.9C411.1 516.2 411.5 514.9 411 515.4A15 15 0 1 0 423.5 526.7C424 526 423.4 526.3 426.6 522.7C429.7 519.2 439.8 504 442.5 505.6C445.2 507.2 442.9 527.1 442.9 532.4C442.9 537.6 442.6 536.5 442.5 537.4A14.4 14.4 0 1 0 459.7 537.6C459.7 536.7 459.4 537.7 459.5 532.5C459.6 527.4 457.8 508 460.5 506.4C463.2 504.8 472.8 519.7 475.9 523.1C479 526.6 478.5 526.4 479.1 527.1A14.6 14.6 0 1 0 491.5 515.8C491 515.2 490.4 515.6 488 512.3C485.5 509 480.1 502.1 476.9 496C473.7 489.9 470.6 481.6 469 475.6C467.4 469.6 467.5 465.6 467.5 460C467.5 454.4 468.2 447.5 469 442C469.8 436.5 471.6 437.2 472 426.9C472.4 416.6 472.4 392.8 471.2 380C470.1 367.2 467.9 361.1 465 350C462.1 338.9 455.8 319.3 454 313.2" fill="#fdc156" stroke="#312f4f" stroke-width="2.2" stroke-linejoin="round" stroke-linecap="round"/>
<circle cx="408.1" cy="529.3" r="8.4" fill="#fddb95"/>
<circle cx="407.3" cy="528.3" r="5.4" fill="#fee2a6" opacity="0.7"/>
<circle cx="450.2" cy="548" r="8.1" fill="#fddb95"/>
<circle cx="449.4" cy="547" r="5.2" fill="#fee2a6" opacity="0.7"/>
<circle cx="492.5" cy="529.3" r="8.2" fill="#fddb95"/>
<circle cx="491.7" cy="528.3" r="5.3" fill="#fee2a6" opacity="0.7"/>
<path d="M419.8 339.6C417.5 344.3 409.9 358.5 406.2 367.9C402.5 377.3 400.8 384.8 397.9 396C394.9 407.2 391.4 422 388.5 435C385.6 448 382.8 460.5 380.7 474C378.6 487.5 378.1 501.7 376 516C373.9 530.3 369.8 550.1 368 560C366.2 569.9 366.8 570.4 365 575.6C363.2 580.8 360.9 585.8 357 591C353.1 596.2 345.5 603.6 341.5 607C337.5 610.4 335.3 610.4 333.2 611.6C331.1 612.8 329.6 613.7 328.9 614.2A14.8 14.8 0 1 0 338.4 628C339.1 627.5 339 626.9 342.4 625C345.7 623 356.6 614.5 358.8 616.6C360.9 618.7 356 633.1 355.2 637.4C354.4 641.7 354.2 641.4 354 642.2A14.5 14.5 0 1 0 370.9 645.4C371 644.6 370.6 644.8 371.5 640.4C372.5 636 373.6 619.2 376.7 619C379.8 618.8 387.3 635.3 389.9 639.4C392.6 643.6 392 643.1 392.4 643.8A14.2 14.2 0 1 0 406.6 634.8C406.1 634.2 405.3 634.7 403.6 630.8C401.9 626.9 398.8 618.1 396.2 611.5C393.7 604.9 390.2 597.2 388.4 591.2C386.6 585.3 385.8 580.8 385.3 575.6C384.8 570.4 384 569.9 385.3 560C386.6 550.1 390.9 530.3 393.2 516C395.5 501.7 397.1 487.5 399.4 474C401.7 460.5 404.6 448 407.2 435C409.9 422 411.9 407.2 415 396C418.1 384.8 421.6 377.1 425.7 367.9C429.8 358.6 437.1 345.1 439.4 340.5" fill="#fdc156" stroke="#312f4f" stroke-width="2.2" stroke-linejoin="round" stroke-linecap="round"/>
<circle cx="322.8" cy="627" r="8.3" fill="#fddb95"/>
<circle cx="322" cy="626" r="5.3" fill="#fee2a6" opacity="0.7"/>
<circle cx="359.5" cy="654.3" r="8.1" fill="#fddb95"/>
<circle cx="358.7" cy="653.3" r="5.2" fill="#fee2a6" opacity="0.7"/>
<circle cx="404.8" cy="648" r="8" fill="#fddb95"/>
<circle cx="404" cy="647" r="5.1" fill="#fee2a6" opacity="0.7"/>
</g>
<g id="small">
<path d="M243.5 315.8 L81.5 315.8 C75.5 315.8 73.5 321.9 73.5 327.9 C73.5 333.9 75.5 340 81.5 340 L243.5 340 Z" fill="#d4645f"/>
<g clip-path="url(#sf24)">
<rect x="73.5" y="315.8" width="170" height="4.8" fill="#ec978b"/>
<rect x="73.5" y="334.2" width="170" height="5.8" fill="#c5524f"/>
<path d="M78.5 322.3 L240.5 322.3" stroke="#b44343" stroke-width="1.1"/>
<path d="M78.5 326.4 L240.5 326.4" stroke="#b44343" stroke-width="1.1"/>
<path d="M78.5 330.4 L240.5 330.4" stroke="#b44343" stroke-width="1.1"/>
<path d="M78.5 334.4 L240.5 334.4" stroke="#b44343" stroke-width="1.1"/>
</g>
<path d="M243.5 315.8 L81.5 315.8 C75.5 315.8 73.5 321.9 73.5 327.9 C73.5 333.9 75.5 340 81.5 340 L243.5 340 Z" fill="none" stroke="#312f4f" stroke-width="2"/>
<ellipse cx="197.6" cy="322.8" rx="9" ry="3" fill="#f9d2c6"/>
<path d="M233 338 L245.7 327.5 L257.4 340.4 L245.7 349.8 L233.5 358.4 Z" fill="#312f4f" stroke="#312f4f" stroke-width="6" stroke-linejoin="round"/>
<ellipse cx="245.7" cy="349.8" rx="6.6" ry="9.6" fill="#f9d2c6" stroke="#312f4f" stroke-width="2"/>
<ellipse cx="257.4" cy="340.4" rx="6.6" ry="9.6" fill="#f9d2c6" stroke="#312f4f" stroke-width="2"/>
<ellipse cx="245.7" cy="327.5" rx="6.6" ry="9.6" fill="#f9d2c6" stroke="#312f4f" stroke-width="2"/>
<path d="M233 346.8 L68.5 346.8 C62.5 346.8 60.5 352.2 60.5 357.6 C60.5 363.1 62.5 368.5 68.5 368.5 L233 368.5 Z" fill="#d4645f"/>
<g clip-path="url(#sf25)">
<rect x="60.5" y="346.8" width="172.5" height="4.3" fill="#ec978b"/>
<rect x="60.5" y="363.3" width="172.5" height="5.2" fill="#c5524f"/>
<path d="M65.5 352.7 L230 352.7" stroke="#b44343" stroke-width="1.1"/>
<path d="M65.5 356.3 L230 356.3" stroke="#b44343" stroke-width="1.1"/>
<path d="M65.5 359.9 L230 359.9" stroke="#b44343" stroke-width="1.1"/>
<path d="M65.5 363.5 L230 363.5" stroke="#b44343" stroke-width="1.1"/>
</g>
<path d="M233 346.8 L68.5 346.8 C62.5 346.8 60.5 352.2 60.5 357.6 C60.5 363.1 62.5 368.5 68.5 368.5 L233 368.5 Z" fill="none" stroke="#312f4f" stroke-width="2"/>
<path d="M233 325 L68.5 325 C62.5 325 60.5 330.6 60.5 336.2 C60.5 341.8 62.5 347.4 68.5 347.4 L233 347.4 Z" fill="#d4645f"/>
<g clip-path="url(#sf26)">
<rect x="60.5" y="325" width="172.5" height="4.5" fill="#ec978b"/>
<rect x="60.5" y="342" width="172.5" height="5.4" fill="#c5524f"/>
<path d="M65.5 331 L230 331" stroke="#b44343" stroke-width="1.1"/>
<path d="M65.5 334.8 L230 334.8" stroke="#b44343" stroke-width="1.1"/>
<path d="M65.5 338.5 L230 338.5" stroke="#b44343" stroke-width="1.1"/>
<path d="M65.5 342.2 L230 342.2" stroke="#b44343" stroke-width="1.1"/>
</g>
<path d="M233 325 L68.5 325 C62.5 325 60.5 330.6 60.5 336.2 C60.5 341.8 62.5 347.4 68.5 347.4 L233 347.4 Z" fill="none" stroke="#312f4f" stroke-width="2"/>
<path d="M104.5 326.2 q-3.4 10 0 20" stroke="#f2a297" stroke-width="2.8" fill="none"/>
<path d="M104.5 348.2 q-3.4 9.5 0 19" stroke="#f2a297" stroke-width="2.8" fill="none"/>
<path d="M145.5 326.2 q-3.4 10 0 20" stroke="#f2a297" stroke-width="2.8" fill="none"/>
<path d="M145.5 348.2 q-3.4 9.5 0 19" stroke="#f2a297" stroke-width="2.8" fill="none"/>
<path d="M186 326.2 q-3.4 10 0 20" stroke="#f2a297" stroke-width="2.8" fill="none"/>
<path d="M186 348.2 q-3.4 9.5 0 19" stroke="#f2a297" stroke-width="2.8" fill="none"/>
<path d="M117 317 q-2 4 -1 8" stroke="#f2a297" stroke-width="2.4" fill="none"/>
<path d="M158 317 q-2 4 -1 8" stroke="#f2a297" stroke-width="2.4" fill="none"/>
<path d="M199 317 q-2 4 -1 8" stroke="#f2a297" stroke-width="2.4" fill="none"/>
<ellipse cx="88.7" cy="327.8" rx="9.2" ry="3.6" fill="#f9d2c6"/>
<ellipse cx="159" cy="336.2" rx="9.2" ry="3.6" fill="#f9d2c6"/>
<ellipse cx="114.4" cy="357.5" rx="9.2" ry="3.6" fill="#f9d2c6"/>
<ellipse cx="210.5" cy="356.8" rx="9.2" ry="3.6" fill="#f9d2c6"/>
<ellipse cx="232.8" cy="338" rx="6.6" ry="9.8" fill="#f9d2c6" stroke="#312f4f" stroke-width="2"/>
<ellipse cx="233.5" cy="358.4" rx="6.6" ry="9.8" fill="#f9d2c6" stroke="#312f4f" stroke-width="2"/>
<path d="M156.3 268C155.3 271.2 153.7 280.3 150.4 287C147.1 293.7 138.7 301.5 136.5 308C134.3 314.5 136.9 323 137 326" fill="none" stroke="#312f4f" stroke-width="4.8" stroke-linecap="round"/>
<path d="M156.3 268C155.3 271.2 153.7 280.3 150.4 287C147.1 293.7 138.7 301.5 136.5 308C134.3 314.5 136.9 323 137 326" fill="none" stroke="#d3b350" stroke-width="2.2" stroke-linecap="round"/>
<path d="M156.3 268C155.8 271.2 155.3 280.3 153.5 287C151.7 293.7 146.8 301 145.5 308C144.2 315 145.9 325.5 146 329" fill="none" stroke="#312f4f" stroke-width="4.8" stroke-linecap="round"/>
<path d="M156.3 268C155.8 271.2 155.3 280.3 153.5 287C151.7 293.7 146.8 301 145.5 308C144.2 315 145.9 325.5 146 329" fill="none" stroke="#d3b350" stroke-width="2.2" stroke-linecap="round"/>
<path d="M156.3 268C156.4 271.2 156.3 280.3 156.7 287C157 293.7 158.1 301.7 158.3 308C158.5 314.3 157.9 322.2 157.8 325" fill="none" stroke="#312f4f" stroke-width="4.8" stroke-linecap="round"/>
<path d="M156.3 268C156.4 271.2 156.3 280.3 156.7 287C157 293.7 158.1 301.7 158.3 308C158.5 314.3 157.9 322.2 157.8 325" fill="none" stroke="#d3b350" stroke-width="2.2" stroke-linecap="round"/>
<path d="M156.3 268C156.8 271.2 157.6 280.3 159.5 287C161.3 293.7 166.2 301 167.5 308C168.8 315 167.1 325.5 167 329" fill="none" stroke="#312f4f" stroke-width="4.8" stroke-linecap="round"/>
<path d="M156.3 268C156.8 271.2 157.6 280.3 159.5 287C161.3 293.7 166.2 301 167.5 308C168.8 315 167.1 325.5 167 329" fill="none" stroke="#d3b350" stroke-width="2.2" stroke-linecap="round"/>
<ellipse cx="137" cy="327.4" rx="2.9" ry="2.3" fill="#d3b350" stroke="#312f4f" stroke-width="1.4"/>
<ellipse cx="146" cy="330.4" rx="2.9" ry="2.3" fill="#d3b350" stroke="#312f4f" stroke-width="1.4"/>
<ellipse cx="157.8" cy="326.4" rx="2.9" ry="2.3" fill="#d3b350" stroke="#312f4f" stroke-width="1.4"/>
<ellipse cx="167" cy="330.2" rx="2.9" ry="2.3" fill="#d3b350" stroke="#312f4f" stroke-width="1.4"/>
<path d="M156 262 L156.4 276" stroke="#312f4f" stroke-width="5.5" stroke-linecap="round"/>
<path d="M156 262 L156.4 276" stroke="#fdc156" stroke-width="2.8" stroke-linecap="round"/>
<path d="M262 163C260.5 163.5 258 164.2 252.8 166C247.6 167.8 238 170.9 231 173.5C224 176.1 216.3 178.8 211 181.7C205.7 184.6 202.8 187.9 199 191C195.2 194.1 192.3 196.1 188 200C183.7 203.9 176.3 210.5 173.4 214.2C170.5 217.9 172.5 218.4 170.8 222C169.1 225.6 165.1 231.3 163 236C160.9 240.7 159.6 245.5 158.5 250C157.4 254.5 156.7 260.8 156.3 263" fill="none" stroke="#312f4f" stroke-width="5.6"/>
<path d="M262 163C260.5 163.5 258 164.2 252.8 166C247.6 167.8 238 170.9 231 173.5C224 176.1 216.3 178.8 211 181.7C205.7 184.6 202.8 187.9 199 191C195.2 194.1 192.3 196.1 188 200C183.7 203.9 176.3 210.5 173.4 214.2C170.5 217.9 172.5 218.4 170.8 222C169.1 225.6 165.1 231.3 163 236C160.9 240.7 159.6 245.5 158.5 250C157.4 254.5 156.7 260.8 156.3 263" fill="none" stroke="#fdc156" stroke-width="3"/>
<path d="M252.8 166C249.3 167.2 238.9 170.6 232 173.2C225.1 175.8 214.9 180.1 211.5 181.5" fill="none" stroke="#312f4f" stroke-width="12.6" stroke-linecap="butt"/>
<path d="M252.8 166C249.3 167.2 238.9 170.6 232 173.2C225.1 175.8 214.9 180.1 211.5 181.5" fill="none" stroke="#b392c8" stroke-width="9" stroke-linecap="butt"/>
<path d="M252.8 166C249.3 167.2 238.9 170.6 232 173.2C225.1 175.8 214.9 180.1 211.5 181.5" fill="none" stroke="#e8b25a" stroke-width="2.4" stroke-linecap="butt" opacity="0.9"/>
<path d="M251.1 161.2 L254.5 170.8" stroke="#312f4f" stroke-width="1.8" stroke-linecap="round"/>
<path d="M213.4 186.2 L209.6 176.8" stroke="#312f4f" stroke-width="1.8" stroke-linecap="round"/>
<path d="M206 187.5C203.3 189.3 195.3 194.2 190 198.6C184.7 202.9 176.8 211.1 174.2 213.6" fill="none" stroke="#312f4f" stroke-width="12.6" stroke-linecap="butt"/>
<path d="M206 187.5C203.3 189.3 195.3 194.2 190 198.6C184.7 202.9 176.8 211.1 174.2 213.6" fill="none" stroke="#b392c8" stroke-width="9" stroke-linecap="butt"/>
<path d="M206 187.5C203.3 189.3 195.3 194.2 190 198.6C184.7 202.9 176.8 211.1 174.2 213.6" fill="none" stroke="#e8b25a" stroke-width="2.4" stroke-linecap="butt" opacity="0.9"/>
<path d="M203.1 183.3 L208.9 191.7" stroke="#312f4f" stroke-width="1.8" stroke-linecap="round"/>
<path d="M177.7 217.3 L170.7 209.9" stroke="#312f4f" stroke-width="1.8" stroke-linecap="round"/>
<path d="M170.6 222.5C169.2 225.2 164.5 232.6 162.2 239C159.9 245.4 157.5 257.3 156.6 261" fill="none" stroke="#312f4f" stroke-width="12.6" stroke-linecap="butt"/>
<path d="M170.6 222.5C169.2 225.2 164.5 232.6 162.2 239C159.9 245.4 157.5 257.3 156.6 261" fill="none" stroke="#b392c8" stroke-width="9" stroke-linecap="butt"/>
<path d="M170.6 222.5C169.2 225.2 164.5 232.6 162.2 239C159.9 245.4 157.5 257.3 156.6 261" fill="none" stroke="#e8b25a" stroke-width="2.4" stroke-linecap="butt" opacity="0.9"/>
<path d="M166.1 220.2 L175.1 224.8" stroke="#312f4f" stroke-width="1.8" stroke-linecap="round"/>
<path d="M161.5 262.3 L151.7 259.7" stroke="#312f4f" stroke-width="1.8" stroke-linecap="round"/>
<path d="M303.4 132.2L303.2 130.8L303 129L302.8 126.9L302.6 124.6L302.4 122.1L302.2 119.7L302.1 117.3L301.9 115.2L301.8 113.3L301.8 111.4L301.8 109.5L301.7 107.6L301.7 105.7L301.7 103.7L301.6 101.8L301.4 99.9L301.1 98L300.8 96.1L300.4 94.1L300 92.3L299.6 90.5L299.2 89L298.8 87.8L298.5 86.8L295.5 87.2L295.5 88.2L295.5 89.6L295.6 91.1L295.6 92.9L295.7 94.7L295.7 96.5L295.7 98.4L295.6 100.1L295.4 101.7L295.2 103.4L294.9 105.1L294.5 106.9L294.1 108.8L293.8 110.7L293.4 112.7L293.1 114.8L292.8 117L292.4 119.3L292.1 121.8L291.8 124.3L291.5 126.6L291.1 128.8L290.8 130.5L290.6 131.8Z" fill="#312f4f"/>
<circle cx="297" cy="87" r="1.5" fill="#312f4f"/>
<path d="M300.8 101.3L300.2 100.9L299.5 100.3L298.6 99.5L297.6 98.5L296.5 97.6L295.4 96.6L294.2 95.6L293 94.6L291.7 93.7L290.4 92.9L289 92L287.7 91.2L286.3 90.5L285 89.7L283.7 88.9L282.5 88L281.2 87.1L279.9 86.2L278.6 85.4L277.4 84.5L276.3 83.6L275.3 82.7L274.5 81.8L273.8 80.8L273.2 79.6L272.7 78.1L272.4 76.3L272.1 74.4L271.8 72.6L271.7 70.9L271.5 69.5L271.3 68.4L268.3 68.8L268.4 69.8L268.4 71.2L268.5 72.9L268.6 74.8L268.8 76.8L269.1 78.9L269.6 80.8L270.2 82.6L271.1 84.2L272.2 85.6L273.4 86.8L274.6 88L275.9 89L277.1 90L278.3 91L279.5 92L280.7 93L282 94L283.3 95L284.6 95.9L285.8 96.8L287 97.7L288.1 98.5L289 99.4L289.9 100.3L290.9 101.3L291.8 102.3L292.6 103.3L293.4 104.3L294.1 105.2L294.8 106L295.2 106.7Z" fill="#312f4f"/>
<circle cx="269.8" cy="68.6" r="1.5" fill="#312f4f"/>
<path d="M303 120L303.3 119.2L303.7 118.2L304.1 117L304.7 115.6L305.3 114.1L306 112.5L306.6 110.8L307.2 109.1L307.9 107.4L308.6 105.6L309.5 103.6L310.3 101.4L311.2 99.2L311.9 96.9L312.4 94.6L312.8 92.3L312.8 90.1L312.7 87.9L312.5 85.8L312.1 83.7L311.6 81.6L311 79.6L310.3 77.7L309.6 75.8L308.7 73.8L307.6 71.7L306.4 69.7L305.1 67.8L303.8 66L302.7 64.5L301.8 63.2L301.1 62.2L298.5 63.8L299.1 64.9L299.9 66.3L300.9 67.9L302 69.7L303.1 71.7L304.1 73.6L305 75.5L305.6 77.2L306.1 79L306.6 80.8L307 82.7L307.3 84.5L307.4 86.4L307.5 88.2L307.4 90L307.2 91.7L306.9 93.3L306.2 95.1L305.5 97L304.6 98.9L303.6 100.8L302.6 102.7L301.7 104.6L300.8 106.3L300 107.8L299.2 109.3L298.3 110.7L297.5 112L296.8 113.2L296.1 114.3L295.5 115.3L295 116Z" fill="#312f4f"/>
<circle cx="299.8" cy="63" r="1.5" fill="#312f4f"/>
<path d="M308.5 106.6L309 105.9L309.6 105.2L310.4 104.2L311.3 103.2L312.3 102.1L313.2 101L314.2 99.9L315 98.9L315.7 98L316.4 97.2L317.2 96.4L317.9 95.5L318.7 94.5L319.5 93.5L320.2 92.3L320.9 90.9L321.5 89.4L322 87.6L322.5 85.8L323 83.9L323.3 82.1L323.7 80.5L324 79.2L324.1 78.2L321.3 77.4L320.9 78.4L320.5 79.7L320 81.3L319.5 83L318.9 84.7L318.3 86.4L317.7 87.9L317.1 89.1L316.5 90L315.9 90.8L315.2 91.5L314.5 92.2L313.7 92.8L312.8 93.5L311.9 94.3L311 95.1L310.1 96L309.1 96.8L308 97.8L306.9 98.7L305.9 99.6L304.9 100.3L304.1 101L303.5 101.4Z" fill="#312f4f"/>
<circle cx="322.7" cy="77.8" r="1.5" fill="#312f4f"/>
<path d="M319.8 156.7L320.3 156.3L321 155.8L321.7 155.3L322.6 154.8L323.4 154.3L324.3 153.8L325.1 153.3L325.8 152.9L326.6 152.6L327.4 152.2L328.2 151.9L328.9 151.6L329.5 151.4L330.2 151.1L330.9 151L331.6 150.8L332.4 150.8L333.4 150.9L334.5 151.1L335.6 151.4L336.8 151.7L337.8 151.9L338.8 152.1L339.5 152.2L340.5 149.4L340 149L339.2 148.5L338.3 147.9L337.2 147.3L336.1 146.7L334.9 146.1L333.7 145.6L332.4 145.2L331.3 144.8L330.2 144.6L329.1 144.5L328 144.4L327 144.4L326 144.3L325.1 144.3L324.2 144.3L323.1 144.2L321.9 144.3L320.7 144.3L319.5 144.4L318.5 144.4L317.5 144.4L316.8 144.4L316.2 144.3Z" fill="#312f4f"/>
<circle cx="340" cy="150.8" r="1.5" fill="#312f4f"/>
<path d="M334.4 153.4L335 153.5L335.8 153.7L336.7 153.9L337.7 154.2L338.7 154.5L339.7 154.9L340.7 155.2L341.5 155.4L342.2 155.7L342.8 156L343.5 156.3L344.2 156.7L345 157.1L345.9 157.5L347 158L348.1 158.4L349.3 158.9L350.6 159.4L352.1 159.9L353.6 160.5L355.3 161L357 161.5L358.8 161.9L360.7 162.1L362.8 162.3L365.1 162.3L367.5 162.2L370 162.1L372.3 162L374.4 161.8L376.2 161.7L377.4 161.6L377.4 158.6L376.1 158.6L374.3 158.6L372.2 158.6L369.9 158.6L367.5 158.6L365.2 158.5L363.1 158.3L361.3 158.1L359.7 157.7L358.2 157.2L356.7 156.7L355.3 156.1L354 155.4L352.7 154.8L351.4 154.2L350.3 153.6L349.3 153.1L348.6 152.6L348 152.2L347.4 151.7L346.8 151.2L346.1 150.7L345.3 150.1L344.5 149.6L343.5 149L342.6 148.4L341.5 147.9L340.5 147.3L339.6 146.8L338.8 146.4L338.1 146L337.6 145.6Z" fill="#312f4f"/>
<circle cx="377.4" cy="160.1" r="1.5" fill="#312f4f"/>
<path d="M342.8 147.7L343.2 147.3L343.6 146.8L344.2 146.2L344.9 145.5L345.6 144.8L346.4 144L347 143.2L347.7 142.4L348.2 141.7L348.6 141.1L349.1 140.4L349.5 139.7L349.9 138.9L350.3 138.2L350.7 137.3L351 136.4L351.3 135.5L351.6 134.5L351.9 133.5L352.1 132.4L352.4 131.4L352.6 130.3L352.7 129.2L352.9 128.2L353 127L353.1 125.8L353.2 124.6L353.3 123.4L353.3 122.2L353.4 121.2L353.4 120.4L353.4 119.7L350.4 119.5L350.3 120.1L350.2 121L350 122L349.9 123.1L349.7 124.2L349.5 125.4L349.3 126.5L349.1 127.4L348.9 128.4L348.6 129.4L348.3 130.3L348 131.3L347.6 132.2L347.3 133L347 133.8L346.6 134.6L346.2 135.2L345.9 135.7L345.5 136.2L345.1 136.7L344.7 137.2L344.3 137.6L343.8 138.1L343.3 138.6L342.8 139L342.2 139.5L341.4 140.1L340.7 140.6L339.9 141.1L339.2 141.6L338.6 142L338.2 142.3Z" fill="#312f4f"/>
<circle cx="351.9" cy="119.6" r="1.5" fill="#312f4f"/>
<path d="M331.8 151.1L332.4 150.6L333.2 150L334.2 149.4L335.2 148.7L336.2 148L337.3 147.3L338.2 146.8L339.1 146.4L339.9 146.1L340.8 145.8L341.8 145.7L342.9 145.5L344 145.4L345.2 145.2L346.5 145L347.7 144.8L348.9 144.5L350.1 144.2L351.4 143.8L352.6 143.5L353.9 143.1L355.1 142.8L356.2 142.3L357.3 141.9L358.3 141.3L359.2 140.7L360 140.1L360.7 139.4L361.3 138.8L361.8 138.3L362.2 137.9L362.5 137.6L360.5 135.2L360.1 135.5L359.6 135.9L359.1 136.3L358.5 136.8L357.8 137.2L357.2 137.7L356.5 138L355.7 138.3L354.9 138.6L353.9 138.8L352.8 139.1L351.7 139.3L350.5 139.5L349.2 139.7L348 139.9L346.9 140L345.8 140.1L344.8 140.2L343.7 140.2L342.5 140.2L341.3 140.3L340 140.4L338.7 140.5L337.3 140.8L335.9 141.3L334.5 141.8L333.2 142.4L331.9 143.1L330.7 143.7L329.7 144.2L328.8 144.6L328.2 144.9Z" fill="#312f4f"/>
<circle cx="361.5" cy="136.4" r="1.5" fill="#312f4f"/>
<path d="M348.3 158.6L349.1 158.2L350.3 157.8L351.7 157.2L353.3 156.5L355.1 155.8L356.8 155L358.4 154.2L359.9 153.2L361.2 152.3L362.3 151.3L363.3 150.4L364.3 149.3L365.2 148.2L366.1 147.1L366.9 145.9L367.7 144.7L368.5 143.2L369.2 141.7L369.8 140.1L370.4 138.5L371 137L371.5 135.6L372.1 134.4L372.6 133.5L373.2 132.6L374 131.8L374.7 131L375.6 130.3L376.4 129.7L377.1 129.1L377.8 128.5L378.3 128.1L376.5 125.7L376 126L375.3 126.4L374.5 126.9L373.5 127.5L372.5 128.2L371.4 129.1L370.4 130L369.4 131.1L368.5 132.4L367.7 133.8L367 135.3L366.3 136.8L365.6 138.3L364.9 139.7L364.2 140.9L363.5 141.9L362.7 142.9L361.9 143.8L361.1 144.6L360.3 145.4L359.5 146.1L358.6 146.8L357.7 147.4L356.7 148L355.6 148.5L354.2 149L352.7 149.5L351.1 150L349.5 150.4L348 150.8L346.7 151.1L345.7 151.4Z" fill="#312f4f"/>
<circle cx="377.4" cy="126.9" r="1.5" fill="#312f4f"/>
<path d="M277.7 143.2L277 143.2L275.9 143.1L274.7 142.9L273.3 142.6L271.8 142.3L270.2 142L268.6 141.7L267.1 141.6L265.6 141.4L264 141.3L262.4 141.3L260.9 141.2L259.4 141.3L258.1 141.3L257.1 141.4L256.3 141.5L255.7 144.5L256.5 144.9L257.5 145.3L258.7 145.8L260 146.3L261.3 146.8L262.7 147.3L263.9 147.9L264.9 148.4L265.8 149.1L266.9 149.9L267.9 150.8L269 151.7L270 152.5L270.9 153.4L271.7 154.2L272.3 154.8Z" fill="#312f4f"/>
<circle cx="256" cy="143" r="1.5" fill="#312f4f"/>
<path d="M262.4 139.2L261.6 138.6L260.5 137.9L259.3 137.1L258 136.1L256.6 135.1L255.3 134.1L254.1 133.1L253.1 132.2L252.2 131.2L251.3 130.1L250.4 129.1L249.6 128.1L248.8 127L248.2 125.9L247.6 124.7L247 123.4L246.6 121.9L246.3 120L246 117.9L245.8 115.8L245.7 113.7L245.6 111.8L245.4 110.1L245.3 108.9L242.3 109.1L242.3 110.2L242.2 111.9L242.2 113.8L242.2 116L242.3 118.2L242.4 120.5L242.6 122.6L243 124.6L243.4 126.3L244 127.9L244.7 129.4L245.4 130.8L246.3 132.1L247.1 133.4L248 134.6L248.9 135.8L249.9 137.2L251.2 138.5L252.5 139.9L253.8 141.1L255 142.3L256.1 143.3L257 144.2L257.6 144.8Z" fill="#312f4f"/>
<circle cx="243.8" cy="109" r="1.5" fill="#312f4f"/>
<path d="M257.6 139.6L256.7 139.2L255.6 138.7L254.3 138.2L252.9 137.5L251.4 136.8L250 136.1L248.6 135.5L247.4 134.8L246.3 134.2L245.2 133.6L244.2 132.9L243.2 132.2L242.2 131.5L241.2 130.8L240.2 130.1L239.3 129.4L238.3 128.7L237.2 127.9L236.2 127.1L235.2 126.3L234.2 125.5L233.3 124.9L232.6 124.3L232 123.9L230 126.1L230.5 126.6L231.2 127.3L232 128.1L232.8 128.9L233.8 129.9L234.8 130.8L235.8 131.7L236.7 132.6L237.6 133.4L238.5 134.2L239.5 135L240.4 135.8L241.4 136.7L242.4 137.5L243.5 138.3L244.6 139.2L245.9 140L247.2 140.9L248.7 141.8L250.1 142.7L251.5 143.6L252.7 144.3L253.7 144.9L254.4 145.4Z" fill="#312f4f"/>
<circle cx="231" cy="125" r="1.5" fill="#312f4f"/>
<path d="M253.2 139.3L252 139.1L250.4 138.8L248.6 138.4L246.7 138L244.8 137.5L242.8 136.9L241.1 136.3L239.5 135.5L238 134.6L236.4 133.6L234.9 132.5L233.3 131.3L231.8 130L230.4 128.6L229 127.2L227.7 125.7L226.5 124.1L225.2 122.1L224 120L222.8 117.8L221.7 115.7L220.7 113.8L219.8 112.1L219.1 110.9L216.5 112.3L217 113.5L217.7 115.2L218.5 117.2L219.5 119.4L220.6 121.8L221.8 124.1L223 126.3L224.3 128.3L225.6 130.1L227 131.8L228.4 133.4L229.9 135L231.5 136.5L233.1 137.9L234.8 139.2L236.5 140.5L238.4 141.6L240.5 142.7L242.7 143.6L244.8 144.4L246.7 145.1L248.5 145.7L249.8 146.2L250.8 146.7Z" fill="#312f4f"/>
<circle cx="217.8" cy="111.6" r="1.5" fill="#312f4f"/>
<path d="M257.1 140.8L256.1 141.1L254.7 141.6L253 142.1L251.2 142.7L249.3 143.3L247.4 143.8L245.5 144.3L243.6 144.6L241.8 144.9L240 145.2L238.1 145.4L236.2 145.6L234.2 145.7L232.2 145.8L230.2 145.9L228.1 145.9L225.9 145.8L223.5 145.6L220.9 145.3L218.3 145L215.8 144.7L213.5 144.4L211.6 144.2L210.2 144L209.8 147L211.2 147.3L213 147.7L215.2 148.1L217.7 148.6L220.3 149.1L223 149.5L225.5 149.9L227.9 150.1L230 150.3L232.2 150.5L234.3 150.6L236.3 150.6L238.4 150.6L240.4 150.6L242.4 150.5L244.4 150.4L246.4 150.2L248.6 149.9L250.7 149.6L252.8 149.2L254.7 148.9L256.4 148.6L257.8 148.4L258.9 148.2Z" fill="#312f4f"/>
<circle cx="210" cy="145.5" r="1.5" fill="#312f4f"/>
<path d="M275.7 170.4L275.5 171.2L275.2 172.3L274.8 173.6L274.2 175L273.6 176.5L273 178L272.4 179.6L271.9 181.1L271.3 182.7L270.7 184.4L270 186.1L269.4 187.9L268.8 189.5L268.3 191L267.9 192.3L267.7 193.3L270.3 194.7L271 194L271.9 192.9L272.8 191.7L273.9 190.3L275 188.8L276.1 187.4L277.1 186L278.1 184.9L279.1 183.8L280.3 182.8L281.4 181.7L282.5 180.6L283.6 179.7L284.6 178.8L285.6 178.1L286.3 177.6Z" fill="#312f4f"/>
<circle cx="269" cy="194" r="1.5" fill="#312f4f"/>
<path d="M269.6 184.7L269 185.1L268.1 185.6L267.1 186.1L266 186.7L264.9 187.3L263.7 187.9L262.5 188.4L261.2 188.9L259.9 189.3L258.6 189.8L257.2 190.3L255.9 190.7L254.5 191L253.1 191.3L251.6 191.5L250.2 191.5L248.5 191.4L246.5 191.1L244.3 190.6L242.1 190.1L240 189.5L238 189L236.4 188.5L235.1 188.3L234.3 191.1L235.5 191.5L237 192.1L239 192.8L241.1 193.5L243.4 194.2L245.6 194.8L247.8 195.4L249.8 195.7L251.7 195.8L253.5 195.8L255.3 195.6L256.9 195.4L258.5 195.1L260 194.7L261.4 194.4L262.8 194.1L264.2 193.8L265.7 193.4L267.1 193L268.5 192.5L269.7 192.1L270.8 191.8L271.7 191.5L272.4 191.3Z" fill="#312f4f"/>
<circle cx="234.7" cy="189.7" r="1.5" fill="#312f4f"/>
<path d="M267.1 191.1L266.6 191.6L265.8 192.2L264.9 192.9L263.9 193.7L262.8 194.5L261.7 195.3L260.7 196L259.7 196.7L258.7 197.3L257.8 197.9L256.9 198.5L256 199.1L255.1 199.6L254.2 200.1L253.2 200.6L252.3 201.1L251.2 201.5L250.1 201.9L248.8 202.3L247.5 202.7L246.2 203.1L245.1 203.4L244.2 203.7L243.4 203.9L244.2 206.9L244.9 206.8L245.8 206.6L247 206.4L248.3 206.2L249.7 205.9L251.1 205.6L252.4 205.3L253.7 204.9L254.9 204.5L256 204.1L257.1 203.7L258.2 203.2L259.2 202.8L260.2 202.3L261.3 201.8L262.3 201.3L263.5 200.8L264.7 200.1L265.9 199.5L267.1 198.8L268.3 198.2L269.3 197.7L270.2 197.2L270.9 196.9Z" fill="#312f4f"/>
<circle cx="243.8" cy="205.4" r="1.5" fill="#312f4f"/>
<path d="M266.1 195L265.3 195.7L264.4 196.7L263.2 197.8L262 199L260.6 200.3L259.2 201.5L257.9 202.6L256.5 203.5L255.2 204.4L253.8 205.3L252.3 206.1L250.9 206.9L249.4 207.6L247.8 208.3L246.2 208.9L244.5 209.4L242.6 209.8L240.4 210.2L238 210.5L235.6 210.8L233.2 211L231.1 211.2L229.3 211.3L227.9 211.5L228.1 214.5L229.4 214.5L231.2 214.5L233.4 214.5L235.8 214.4L238.3 214.3L240.9 214.2L243.3 213.9L245.5 213.6L247.5 213.2L249.3 212.7L251.2 212.1L252.9 211.5L254.6 210.8L256.3 210L257.9 209.3L259.5 208.5L261.2 207.6L262.9 206.5L264.6 205.4L266.2 204.3L267.7 203.2L269 202.3L270.1 201.5L270.9 201Z" fill="#312f4f"/>
<circle cx="228" cy="213" r="1.5" fill="#312f4f"/>
<path d="M265.7 193.8L265.7 194.8L265.8 196.2L265.9 197.8L265.9 199.5L265.9 201.3L265.9 203.1L265.8 204.9L265.7 206.4L265.4 208L265.1 209.6L264.7 211.2L264.3 212.8L263.8 214.4L263.2 216L262.7 217.5L262.1 219.1L261.4 220.6L260.5 222.2L259.6 223.9L258.6 225.5L257.7 227L256.8 228.4L256.1 229.6L255.5 230.6L258.1 232.2L258.7 231.4L259.5 230.3L260.5 229L261.6 227.5L262.8 225.9L263.9 224.3L265 222.6L265.9 220.9L266.8 219.4L267.6 217.8L268.3 216.1L269 214.4L269.7 212.7L270.3 211L270.8 209.3L271.3 207.6L271.8 205.7L272.1 203.8L272.4 201.8L272.6 199.9L272.8 198L273 196.5L273.2 195.2L273.3 194.2Z" fill="#312f4f"/>
<circle cx="256.8" cy="231.4" r="1.5" fill="#312f4f"/>
<path d="M301.7 177.3L302.2 178L302.8 179L303.4 180.2L304 181.4L304.7 182.7L305.3 184.1L305.9 185.4L306.4 186.5L306.9 187.7L307.3 189.1L307.7 190.5L308.1 191.9L308.5 193.2L308.8 194.4L309.2 195.4L309.5 196.1L312.5 195.9L312.7 195.1L312.9 194L313 192.8L313.2 191.4L313.3 189.9L313.4 188.4L313.5 186.9L313.6 185.5L313.7 184L313.8 182.5L313.8 180.9L313.9 179.3L313.9 177.9L314 176.6L314.1 175.5L314.3 174.7Z" fill="#312f4f"/>
<circle cx="311" cy="196" r="1.5" fill="#312f4f"/>
<path d="M309.1 192.7L309.8 193.1L310.7 193.8L311.7 194.7L313 195.6L314.3 196.7L315.7 197.7L317.2 198.6L318.7 199.4L320.1 200L321.4 200.6L322.9 201.1L324.4 201.6L325.9 202L327.5 202.3L329.1 202.5L330.9 202.6L332.8 202.5L334.9 202.3L337 202.1L339.1 201.7L341.2 201.3L343 200.9L344.5 200.6L345.6 200.4L345.2 197.4L344 197.5L342.5 197.7L340.6 197.9L338.6 198.1L336.6 198.4L334.5 198.5L332.7 198.5L331.1 198.4L329.7 198.2L328.4 197.9L327.1 197.5L325.9 197L324.7 196.5L323.5 195.9L322.4 195.3L321.3 194.6L320.3 193.9L319.3 193L318.2 192L317.2 190.9L316.2 189.9L315.3 188.9L314.5 188L313.9 187.3Z" fill="#312f4f"/>
<circle cx="345.4" cy="198.9" r="1.5" fill="#312f4f"/>
<path d="M309.1 198.9L309.6 199.4L310.1 200.1L310.8 200.9L311.5 201.8L312.3 202.8L313.2 203.9L314.1 204.9L315 205.8L315.9 206.6L316.8 207.4L317.8 208.2L318.7 209L319.8 209.8L320.8 210.5L321.9 211.2L323 211.8L324.2 212.3L325.5 212.8L326.8 213.2L328.1 213.6L329.2 213.9L330.3 214.1L331.2 214.3L331.8 214.4L332.8 211.6L332.1 211.3L331.2 211L330.2 210.6L329.1 210.2L328 209.7L326.9 209.3L325.9 208.8L325 208.2L324.2 207.6L323.4 207L322.6 206.3L321.8 205.5L321.1 204.7L320.3 203.9L319.6 203L319 202.2L318.4 201.4L317.8 200.4L317.2 199.4L316.6 198.4L316.1 197.4L315.6 196.5L315.2 195.7L314.9 195.1Z" fill="#312f4f"/>
<circle cx="332.3" cy="213" r="1.5" fill="#312f4f"/>
<path d="M307.9 201.4L308.4 202.3L308.9 203.4L309.6 204.9L310.4 206.7L311.3 208.5L312.3 210.4L313.4 212.2L314.8 213.8L316.1 215.2L317.6 216.5L319.1 217.8L320.7 218.9L322.4 220.1L324.2 221.1L326.1 222.1L328.1 223L330.3 223.8L332.8 224.5L335.5 225.2L338.2 225.8L340.7 226.4L343 226.8L344.9 227.2L346.3 227.5L347.1 224.5L345.7 224.1L343.8 223.6L341.5 223L339 222.3L336.5 221.5L334 220.8L331.8 219.9L329.9 219L328.2 218.1L326.6 217.1L325.2 216L323.8 214.9L322.5 213.8L321.3 212.6L320.2 211.4L319.2 210.2L318.5 208.9L317.8 207.5L317.2 205.9L316.6 204.2L316.1 202.6L315.7 201L315.4 199.6L315.1 198.6Z" fill="#312f4f"/>
<circle cx="346.7" cy="226" r="1.5" fill="#312f4f"/>
<path d="M306.2 193.5L306.2 194.6L306.1 196L306 197.7L305.8 199.6L305.7 201.7L305.6 203.8L305.6 206L305.6 208L305.7 209.9L305.9 211.8L306.1 213.8L306.3 215.8L306.6 217.7L307 219.7L307.4 221.6L307.9 223.5L308.6 225.5L309.3 227.5L310.2 229.5L311.1 231.5L312 233.3L312.8 234.9L313.5 236.2L314 237.2L316.8 236L316.4 234.9L315.9 233.5L315.2 231.8L314.5 230L313.7 228.1L313.1 226.1L312.5 224.2L312.1 222.5L311.8 220.8L311.6 219L311.4 217.1L311.3 215.3L311.3 213.4L311.3 211.6L311.3 209.8L311.4 208L311.5 206.3L311.8 204.4L312.1 202.4L312.5 200.5L312.9 198.7L313.2 197L313.6 195.6L313.8 194.5Z" fill="#312f4f"/>
<circle cx="315.4" cy="236.6" r="1.5" fill="#312f4f"/>
<path d="M299.5 124C301.6 125.2 304.4 128.8 307 131.5C309.6 134.2 312.3 137.9 315 140.5C317.7 143.1 321.8 144.6 323 147C324.2 149.4 322.8 151.8 322 155C321.2 158.2 319.5 162.3 318 166C316.5 169.7 314.5 174 313 177C311.5 180 311.4 183.1 309 184C306.6 184.9 301.9 183.1 298.6 182.7C295.3 182.3 292.3 181.9 289.2 181.5C286.1 181.1 282.6 180.1 279.8 180.5C277 180.9 274.1 184.4 272.5 184C270.9 183.6 269.7 180.1 270 178C270.3 175.9 275.8 173.5 274.5 171.5C273.2 169.5 263.8 167.8 262 165.8C260.2 163.8 262.7 161.6 264 159.5C265.3 157.4 269.3 155.2 270 153C270.7 150.8 267.3 148.2 268 146C268.7 143.8 272 141.8 274 140C276 138.2 277.7 136.8 280 135C282.3 133.2 285.6 131.3 288 129.5C290.4 127.7 292.6 124.9 294.5 124C296.4 123.1 297.4 122.8 299.5 124Z" fill="#fdc156" stroke="#312f4f" stroke-width="2.4" stroke-linejoin="round"/>
<path d="M301.4 132.1L301.2 130.8L301 129L300.8 126.9L300.6 124.5L300.4 122.1L300.2 119.6L300.1 117.2L299.9 115.1L299.8 113.2L299.8 111.2L299.8 109.3L299.8 107.4L299.7 105.5L299.7 103.6L299.6 101.8L299.4 100L299.2 98.1L298.9 96.2L298.6 94.3L298.2 92.5L297.9 90.8L297.5 89.3L297.2 88L297 87L297 87L297 88L297.1 89.3L297.2 90.9L297.4 92.6L297.5 94.5L297.6 96.4L297.7 98.2L297.6 100L297.4 101.7L297.2 103.5L296.8 105.3L296.5 107.1L296.1 109L295.8 110.9L295.4 112.9L295.1 114.9L294.8 117L294.4 119.4L294.1 121.9L293.8 124.3L293.5 126.7L293.1 128.8L292.8 130.6L292.6 131.9Z" fill="#fdc156"/>
<path d="M299.3 102.7L298.8 102.3L298 101.6L297.2 100.8L296.2 99.9L295.1 99L294 98L292.9 97.1L291.7 96.2L290.5 95.3L289.2 94.5L287.9 93.7L286.6 92.9L285.2 92.1L283.9 91.3L282.6 90.5L281.3 89.6L280 88.7L278.7 87.8L277.4 86.9L276.2 86L275 85.1L273.8 84.1L272.8 82.9L272 81.7L271.4 80.2L270.9 78.5L270.6 76.6L270.3 74.6L270.2 72.8L270 71.1L269.9 69.6L269.8 68.6L269.8 68.6L269.9 69.6L270 71.1L270.2 72.8L270.3 74.6L270.6 76.6L270.9 78.5L271.4 80.2L272 81.7L272.7 83L273.7 84.2L274.7 85.4L275.9 86.4L277.1 87.4L278.3 88.4L279.5 89.4L280.7 90.4L281.9 91.4L283.1 92.4L284.4 93.3L285.7 94.2L287 95.1L288.2 96L289.3 96.9L290.3 97.8L291.3 98.8L292.2 99.8L293.2 100.9L294.1 101.9L294.9 103L295.6 103.9L296.2 104.7L296.7 105.3Z" fill="#fdc156"/>
<path d="M301.2 119.1L301.5 118.3L301.9 117.3L302.4 116.1L302.9 114.7L303.5 113.2L304.2 111.6L304.8 110L305.4 108.3L306 106.6L306.8 104.7L307.7 102.7L308.5 100.6L309.3 98.5L310 96.3L310.5 94.2L310.8 92.1L310.8 90.1L310.7 88L310.5 86L310.1 84L309.6 82.1L309 80.2L308.4 78.3L307.7 76.5L306.9 74.6L305.9 72.6L304.8 70.7L303.6 68.8L302.4 67L301.4 65.4L300.5 64L299.8 63L299.8 63L300.4 64L301.3 65.4L302.4 67L303.5 68.8L304.7 70.7L305.8 72.7L306.7 74.7L307.5 76.5L308 78.4L308.5 80.3L308.9 82.2L309.2 84.2L309.4 86.1L309.5 88.1L309.4 90L309.2 91.9L308.8 93.8L308.2 95.7L307.3 97.7L306.4 99.7L305.4 101.7L304.4 103.6L303.5 105.4L302.6 107.1L301.8 108.6L301 110.1L300.1 111.6L299.3 112.9L298.6 114.2L297.9 115.2L297.3 116.2L296.8 116.9Z" fill="#fdc156"/>
<path d="M307.1 105.1L307.6 104.5L308.2 103.7L309 102.8L309.9 101.8L310.9 100.7L311.8 99.6L312.7 98.5L313.5 97.5L314.3 96.6L315 95.8L315.8 94.9L316.5 94.1L317.2 93.2L317.9 92.3L318.5 91.2L319.1 90L319.7 88.7L320.2 87L320.8 85.3L321.3 83.5L321.7 81.7L322.1 80.1L322.4 78.8L322.7 77.8L322.7 77.8L322.4 78.8L322.1 80.1L321.7 81.7L321.2 83.5L320.7 85.3L320.1 87L319.5 88.6L318.9 90L318.2 91L317.5 92L316.7 92.8L315.9 93.5L315.1 94.3L314.2 95L313.4 95.7L312.5 96.5L311.5 97.3L310.5 98.3L309.4 99.2L308.3 100.1L307.3 101L306.3 101.8L305.5 102.4L304.9 102.9Z" fill="#fdc156"/>
<path d="M319.2 154.8L319.7 154.4L320.4 153.9L321.2 153.4L322 152.9L322.9 152.4L323.8 151.8L324.7 151.4L325.5 151L326.3 150.6L327.1 150.3L327.9 149.9L328.6 149.6L329.4 149.4L330.2 149.1L331 149L331.9 148.9L332.8 148.9L333.9 149.1L335.1 149.4L336.3 149.8L337.4 150.1L338.5 150.4L339.3 150.7L340 150.8L340 150.8L339.4 150.5L338.6 150L337.7 149.5L336.6 149L335.5 148.4L334.3 147.9L333.2 147.5L332.1 147.1L331.1 146.8L330.2 146.6L329.2 146.5L328.2 146.4L327.3 146.3L326.4 146.3L325.5 146.3L324.5 146.2L323.5 146.2L322.4 146.2L321.2 146.2L320.1 146.3L319.1 146.3L318.1 146.4L317.4 146.3L316.8 146.2Z" fill="#fdc156"/>
<path d="M335.2 151.5L335.8 151.6L336.5 151.8L337.4 152.1L338.4 152.4L339.5 152.7L340.5 153L341.5 153.4L342.4 153.7L343.2 154L343.9 154.3L344.6 154.6L345.3 155L346 155.4L346.9 155.8L347.8 156.2L348.9 156.6L350.1 157L351.5 157.5L352.8 158.1L354.3 158.6L355.9 159.1L357.5 159.5L359.2 159.9L361 160.1L362.9 160.3L365.2 160.4L367.5 160.4L369.9 160.4L372.2 160.3L374.3 160.2L376.1 160.1L377.4 160.1L377.4 160.1L376.1 160.1L374.3 160.2L372.2 160.3L369.9 160.3L367.5 160.4L365.2 160.4L362.9 160.3L361 160.1L359.3 159.7L357.6 159.2L356.1 158.6L354.6 157.9L353.2 157.3L351.8 156.6L350.6 156L349.5 155.4L348.5 154.9L347.7 154.4L347 153.9L346.3 153.4L345.7 152.9L345.1 152.4L344.4 151.9L343.6 151.3L342.7 150.8L341.8 150.3L340.8 149.7L339.8 149.2L338.8 148.7L338 148.2L337.3 147.8L336.8 147.5Z" fill="#fdc156"/>
<path d="M341.5 146.2L341.9 145.8L342.3 145.3L342.9 144.7L343.6 144L344.3 143.3L345 142.5L345.6 141.8L346.2 141.1L346.6 140.5L347.1 139.8L347.5 139.2L347.9 138.6L348.2 137.9L348.5 137.2L348.9 136.5L349.2 135.7L349.5 134.8L349.7 133.9L350 132.9L350.2 131.9L350.5 130.9L350.7 129.8L350.8 128.8L351 127.8L351.2 126.7L351.3 125.6L351.5 124.4L351.6 123.2L351.7 122.1L351.8 121.1L351.8 120.2L351.9 119.6L351.9 119.6L351.8 120.2L351.8 121.1L351.7 122.1L351.6 123.2L351.5 124.4L351.3 125.6L351.2 126.7L351 127.8L350.7 128.8L350.5 129.8L350.2 130.8L349.9 131.8L349.5 132.8L349.2 133.7L348.8 134.5L348.4 135.3L348 136.1L347.6 136.7L347.2 137.3L346.8 137.8L346.3 138.4L345.9 138.9L345.4 139.4L344.8 139.9L344.2 140.4L343.5 141L342.8 141.6L342 142.1L341.2 142.6L340.5 143.1L339.9 143.5L339.5 143.8Z" fill="#fdc156"/>
<path d="M330.8 149.4L331.4 148.9L332.2 148.3L333.1 147.7L334.2 147L335.3 146.2L336.4 145.5L337.5 144.9L338.5 144.5L339.5 144.1L340.5 143.9L341.6 143.7L342.7 143.5L343.9 143.4L345 143.2L346.2 143L347.4 142.8L348.5 142.5L349.7 142.2L351 141.9L352.2 141.6L353.4 141.3L354.5 140.9L355.6 140.5L356.5 140.1L357.4 139.7L358.2 139.2L358.9 138.7L359.6 138.1L360.2 137.6L360.7 137.1L361.1 136.7L361.5 136.4L361.5 136.4L361.1 136.7L360.7 137.1L360.2 137.6L359.6 138.1L358.9 138.7L358.2 139.2L357.4 139.7L356.5 140.1L355.5 140.4L354.5 140.7L353.3 141L352.1 141.2L350.9 141.4L349.6 141.6L348.4 141.8L347.2 142L346.1 142.1L345 142.2L343.8 142.2L342.6 142.2L341.5 142.3L340.3 142.3L339.1 142.5L337.9 142.7L336.7 143.1L335.4 143.6L334.1 144.2L332.9 144.8L331.7 145.4L330.7 145.9L329.9 146.3L329.2 146.6Z" fill="#fdc156"/>
<path d="M347.6 156.7L348.5 156.3L349.6 155.9L351.1 155.3L352.7 154.6L354.3 153.9L356 153.2L357.5 152.4L358.9 151.5L360 150.7L361 149.8L362 148.9L362.9 147.9L363.7 146.9L364.5 145.9L365.3 144.8L366 143.6L366.7 142.3L367.4 140.8L368 139.3L368.6 137.8L369.2 136.3L369.7 134.8L370.3 133.5L371 132.3L371.8 131.3L372.7 130.4L373.6 129.6L374.5 128.9L375.4 128.3L376.2 127.7L376.9 127.3L377.4 126.9L377.4 126.9L376.9 127.3L376.2 127.7L375.4 128.3L374.5 128.9L373.6 129.6L372.7 130.4L371.8 131.3L371 132.3L370.2 133.4L369.5 134.7L368.8 136.1L368.1 137.6L367.4 139.1L366.7 140.5L366 141.9L365.2 143L364.3 144.1L363.5 145L362.6 146L361.8 146.8L360.8 147.6L359.9 148.3L358.8 149L357.7 149.7L356.5 150.3L355 150.8L353.4 151.4L351.7 151.9L350.1 152.3L348.6 152.7L347.3 153L346.4 153.3Z" fill="#fdc156"/>
<path d="M276.9 145L276.1 145L275.1 144.9L273.8 144.7L272.4 144.4L270.9 144.1L269.4 143.8L267.9 143.6L266.5 143.5L265.1 143.3L263.6 143.1L262.1 143L260.6 143L259.2 142.9L257.9 142.9L256.8 142.9L256 143L256 143L256.7 143.3L257.8 143.7L259 144.1L260.3 144.5L261.7 145L263.1 145.5L264.4 146L265.5 146.5L266.5 147.3L267.6 148.1L268.7 149L269.8 149.9L270.8 150.7L271.8 151.6L272.5 152.4L273.1 153Z" fill="#fdc156"/>
<path d="M261.1 140.7L260.3 140.2L259.2 139.5L258 138.6L256.7 137.7L255.3 136.6L254 135.6L252.7 134.5L251.6 133.5L250.6 132.4L249.7 131.4L248.8 130.3L247.9 129.2L247.1 128L246.4 126.8L245.7 125.4L245.1 124L244.7 122.2L244.4 120.2L244.2 118.1L244.1 115.9L244 113.7L243.9 111.8L243.9 110.2L243.8 109L243.8 109L243.8 110.2L243.9 111.8L243.9 113.7L244 115.9L244.1 118.1L244.2 120.3L244.5 122.3L244.9 124L245.3 125.6L245.8 127L246.4 128.4L247.1 129.7L247.9 130.9L248.7 132.1L249.5 133.3L250.4 134.5L251.4 135.8L252.5 137.1L253.8 138.4L255.1 139.6L256.3 140.7L257.4 141.8L258.3 142.6L258.9 143.3Z" fill="#fdc156"/>
<path d="M256.6 141.3L255.8 141L254.7 140.5L253.4 139.9L251.9 139.3L250.5 138.6L249 137.9L247.6 137.2L246.3 136.5L245.2 135.9L244.1 135.2L243 134.5L242 133.8L241 133.1L240 132.4L239 131.7L238 131L237 130.2L236 129.4L235 128.5L234 127.6L233.1 126.8L232.2 126.1L231.5 125.5L231 125L231 125L231.5 125.5L232.2 126.1L233.1 126.8L234 127.6L235 128.5L236 129.4L237 130.2L238 131L238.9 131.8L239.8 132.6L240.7 133.4L241.6 134.3L242.6 135.1L243.6 135.9L244.6 136.7L245.7 137.5L246.9 138.3L248.2 139.2L249.6 140.1L251.1 141L252.4 141.8L253.6 142.5L254.6 143.2L255.4 143.7Z" fill="#fdc156"/>
<path d="M252.6 141.2L251.4 141L249.9 140.7L248.1 140.3L246.2 139.9L244.1 139.4L242.1 138.8L240.2 138.1L238.4 137.2L236.8 136.3L235.2 135.2L233.6 134L232 132.8L230.4 131.4L228.9 130L227.5 128.5L226.1 126.9L224.8 125.1L223.6 123L222.4 120.8L221.2 118.6L220.2 116.4L219.2 114.5L218.4 112.8L217.8 111.6L217.8 111.6L218.4 112.8L219.2 114.5L220.1 116.5L221.1 118.6L222.2 120.9L223.4 123.2L224.6 125.3L225.9 127.1L227.1 128.8L228.4 130.4L229.8 132L231.3 133.5L232.8 135L234.3 136.3L235.9 137.6L237.6 138.8L239.3 139.8L241.3 140.8L243.3 141.7L245.3 142.5L247.3 143.2L249 143.8L250.4 144.3L251.4 144.8Z" fill="#fdc156"/>
<path d="M257.6 142.7L256.5 143.1L255.1 143.5L253.5 144.1L251.7 144.6L249.7 145.2L247.8 145.8L245.8 146.2L243.9 146.6L242 146.9L240.1 147.2L238.2 147.4L236.2 147.6L234.2 147.7L232.2 147.8L230.1 147.9L228 147.8L225.7 147.7L223.2 147.4L220.6 147.1L218 146.7L215.5 146.3L213.3 146L211.4 145.7L210 145.5L210 145.5L211.4 145.7L213.3 146.1L215.5 146.4L218 146.9L220.6 147.3L223.2 147.6L225.7 147.9L228 148.2L230.1 148.3L232.2 148.5L234.2 148.6L236.3 148.6L238.3 148.6L240.2 148.6L242.2 148.5L244.1 148.4L246.1 148.2L248.2 148L250.3 147.6L252.3 147.3L254.2 147L255.9 146.7L257.3 146.4L258.4 146.3Z" fill="#fdc156"/>
<path d="M277.3 171.5L277.2 172.4L276.8 173.4L276.4 174.7L275.9 176.1L275.3 177.6L274.7 179.1L274.1 180.7L273.6 182.2L273 183.7L272.3 185.3L271.6 187L270.9 188.7L270.3 190.3L269.7 191.8L269.3 193L269 194L269 194L269.6 193.2L270.4 192.2L271.3 190.9L272.3 189.4L273.4 187.9L274.4 186.5L275.4 185.1L276.4 183.8L277.5 182.8L278.6 181.7L279.7 180.6L280.9 179.5L282 178.5L283 177.7L283.9 177L284.7 176.5Z" fill="#fdc156"/>
<path d="M270.4 186.5L269.7 186.9L268.9 187.4L267.9 188L266.8 188.6L265.6 189.2L264.4 189.8L263.1 190.3L261.8 190.8L260.5 191.3L259.1 191.7L257.7 192.2L256.3 192.6L254.8 193L253.3 193.3L251.7 193.5L250 193.5L248.2 193.3L246.1 192.9L243.8 192.4L241.6 191.7L239.5 191.1L237.5 190.5L235.9 190L234.7 189.7L234.7 189.7L235.9 190.1L237.5 190.6L239.5 191.2L241.6 191.8L243.8 192.5L246 193L248.1 193.4L250 193.7L251.7 193.8L253.3 193.8L254.9 193.6L256.5 193.4L258 193.1L259.4 192.8L260.8 192.5L262.2 192.2L263.6 191.9L265 191.5L266.4 191.1L267.7 190.7L268.9 190.3L270 189.9L270.9 189.6L271.6 189.5Z" fill="#fdc156"/>
<path d="M268.2 192.8L267.6 193.2L266.9 193.9L266 194.6L264.9 195.4L263.8 196.2L262.7 197L261.7 197.7L260.7 198.4L259.7 199.1L258.8 199.7L257.9 200.3L256.9 200.9L256 201.4L255 202L254 202.5L253 203L251.8 203.4L250.6 203.7L249.2 204.1L247.9 204.4L246.6 204.7L245.5 205L244.5 205.2L243.8 205.4L243.8 205.4L244.5 205.2L245.5 205L246.6 204.8L247.9 204.5L249.2 204.1L250.6 203.8L251.9 203.4L253 203L254.1 202.7L255.2 202.3L256.2 201.9L257.2 201.5L258.3 201L259.3 200.5L260.3 200.1L261.3 199.6L262.4 199L263.6 198.4L264.9 197.8L266.1 197.1L267.2 196.5L268.2 196L269.1 195.5L269.8 195.2Z" fill="#fdc156"/>
<path d="M267.3 196.6L266.6 197.3L265.6 198.3L264.5 199.4L263.2 200.6L261.8 201.9L260.4 203.1L259 204.2L257.6 205.2L256.1 206.1L254.7 207L253.2 207.9L251.7 208.7L250.1 209.4L248.5 210.2L246.8 210.8L245 211.4L242.9 211.8L240.6 212.1L238.2 212.3L235.7 212.5L233.3 212.7L231.1 212.8L229.3 212.9L228 213L228 213L229.3 212.9L231.2 212.9L233.3 212.8L235.7 212.7L238.2 212.5L240.6 212.3L243 212L245 211.6L246.9 211.3L248.7 210.8L250.4 210.2L252.1 209.6L253.7 209L255.3 208.3L256.9 207.5L258.4 206.8L260.1 205.9L261.7 204.9L263.3 203.8L264.9 202.7L266.4 201.7L267.7 200.7L268.8 200L269.7 199.4Z" fill="#fdc156"/>
<path d="M267.7 193.9L267.7 194.9L267.8 196.3L267.9 197.9L267.9 199.6L267.9 201.5L267.9 203.3L267.8 205.1L267.6 206.8L267.4 208.4L267 210.1L266.6 211.8L266.2 213.4L265.6 215.1L265.1 216.7L264.5 218.4L263.9 219.9L263.1 221.5L262.1 223.2L261.1 224.8L260.1 226.5L259 228L258.1 229.4L257.4 230.5L256.8 231.4L256.8 231.4L257.4 230.5L258.2 229.4L259.1 228.1L260.2 226.6L261.3 224.9L262.3 223.3L263.3 221.6L264.1 220.1L264.9 218.5L265.7 217L266.4 215.4L267.1 213.8L267.8 212.1L268.4 210.5L268.9 208.8L269.4 207.2L269.8 205.4L270.1 203.6L270.4 201.6L270.6 199.8L270.8 198L271 196.4L271.2 195.1L271.3 194.1Z" fill="#fdc156"/>
<path d="M303.6 176.9L304.2 177.6L304.7 178.6L305.3 179.7L306 181L306.6 182.3L307.2 183.7L307.9 185L308.4 186.2L308.8 187.5L309.1 188.9L309.5 190.3L309.8 191.7L310.1 193L310.4 194.2L310.7 195.2L311 196L311 196L311.1 195.2L311.2 194.2L311.3 192.9L311.4 191.6L311.5 190.1L311.5 188.6L311.6 187.1L311.6 185.8L311.7 184.3L311.8 182.8L311.9 181.3L311.9 179.8L312 178.3L312 177L312.2 175.9L312.4 175.1Z" fill="#fdc156"/>
<path d="M310.4 191.2L311.1 191.7L312 192.3L313.1 193.2L314.3 194.1L315.6 195.1L316.9 196.1L318.3 196.9L319.6 197.6L320.9 198.2L322.3 198.8L323.6 199.2L325 199.7L326.4 200L327.9 200.3L329.4 200.5L331 200.6L332.7 200.6L334.7 200.5L336.8 200.3L338.9 200L340.9 199.6L342.7 199.3L344.3 199.1L345.4 198.9L345.4 198.9L344.3 199L342.7 199.3L340.9 199.6L338.9 199.9L336.8 200.2L334.7 200.4L332.7 200.5L331 200.4L329.5 200.2L328 199.8L326.6 199.4L325.3 198.9L324 198.3L322.7 197.7L321.5 197.1L320.4 196.4L319.2 195.6L318.1 194.6L316.9 193.5L315.8 192.4L314.8 191.3L313.9 190.3L313.1 189.5L312.6 188.8Z" fill="#fdc156"/>
<path d="M310.8 197.8L311.2 198.3L311.8 199L312.5 199.8L313.2 200.7L314 201.7L314.8 202.7L315.7 203.6L316.5 204.4L317.4 205.2L318.2 206L319.1 206.8L320.1 207.5L321 208.2L322 208.9L323 209.5L324 210L325 210.6L326.2 211.1L327.4 211.5L328.6 211.9L329.7 212.2L330.8 212.5L331.6 212.8L332.3 213L332.3 213L331.7 212.8L330.8 212.5L329.7 212.2L328.6 211.9L327.4 211.5L326.2 211L325 210.5L324 210L323.1 209.3L322.2 208.6L321.4 207.8L320.5 207L319.7 206.1L318.9 205.3L318.2 204.4L317.5 203.6L316.8 202.7L316.2 201.6L315.5 200.6L314.9 199.5L314.4 198.5L313.9 197.6L313.5 196.8L313.2 196.2Z" fill="#fdc156"/>
<path d="M309.8 200.7L310.3 201.6L310.8 202.8L311.5 204.3L312.2 205.9L313.1 207.7L314 209.4L315.1 211.1L316.3 212.5L317.6 213.8L318.9 215.1L320.4 216.2L321.9 217.3L323.6 218.4L325.3 219.4L327.1 220.3L328.9 221.1L331 222L333.4 222.8L336 223.5L338.6 224.1L341.1 224.7L343.4 225.2L345.3 225.7L346.7 226L346.7 226L345.3 225.6L343.4 225.2L341.1 224.6L338.6 224L336 223.3L333.5 222.5L331.1 221.7L329.1 220.9L327.3 219.9L325.6 218.8L324 217.7L322.5 216.5L321.2 215.3L319.9 214.1L318.7 212.8L317.7 211.5L316.8 210L316 208.4L315.4 206.7L314.8 204.9L314.3 203.2L313.8 201.7L313.5 200.3L313.2 199.3Z" fill="#fdc156"/>
<path d="M308.2 193.8L308.2 194.8L308.1 196.3L307.9 198L307.8 199.9L307.7 201.9L307.6 204L307.6 206.1L307.6 208L307.7 209.9L307.9 211.7L308.1 213.7L308.3 215.6L308.6 217.5L309 219.4L309.4 221.2L309.9 223L310.4 224.9L311.1 226.9L311.9 228.8L312.7 230.8L313.5 232.6L314.3 234.2L314.9 235.6L315.4 236.6L315.4 236.6L315 235.6L314.4 234.2L313.7 232.5L312.9 230.7L312.1 228.8L311.3 226.8L310.7 224.8L310.1 223L309.8 221.1L309.6 219.3L309.4 217.4L309.3 215.5L309.3 213.6L309.3 211.7L309.3 209.8L309.4 208L309.5 206.2L309.8 204.2L310.1 202.2L310.5 200.2L310.9 198.4L311.2 196.7L311.6 195.3L311.8 194.2Z" fill="#fdc156"/>
<path d="M299.2 125.9C301.2 127 303.9 130.3 306.3 132.9C308.7 135.5 311.3 138.9 313.8 141.4C316.3 143.8 320.2 145.2 321.3 147.5C322.4 149.8 321.2 152 320.4 155C319.6 158 318 161.9 316.6 165.3C315.2 168.8 313.3 172.9 311.9 175.7C310.5 178.5 310.4 181.4 308.2 182.3C305.9 183.2 301.5 181.4 298.4 181C295.3 180.6 292.5 180.3 289.5 179.9C286.6 179.6 283.3 178.6 280.7 179C278.1 179.4 275.4 182.7 273.8 182.3C272.3 181.9 271.2 178.6 271.5 176.6C271.8 174.7 277 172.4 275.7 170.5C274.5 168.6 265.6 167 264 165.2C262.3 163.3 264.6 161.2 265.9 159.2C267.1 157.2 270.9 155.2 271.5 153.1C272.1 151 269 148.6 269.6 146.5C270.2 144.5 273.4 142.6 275.3 140.9C277.1 139.2 278.7 137.8 280.9 136.2C283.1 134.6 286.1 132.8 288.4 131C290.7 129.3 292.7 126.7 294.5 125.9C296.3 125 297.3 124.7 299.2 125.9Z" fill="#fdc156"/>
<path d="M270.5 150.5 q1.5 4 -3 8" fill="none" stroke="#312f4f" stroke-width="1.8" stroke-linecap="round"/>
<path d="M269.5 168.5 q5 0.5 6.5 4" fill="none" stroke="#312f4f" stroke-width="1.8" stroke-linecap="round"/>
<path d="M297.5 135 C308 137 315.5 146 315 156 C314.6 164 311 170 306 174" fill="none" stroke="#fcd88f" stroke-width="6.5" stroke-linecap="round" opacity="0.85"/>
<circle cx="293.3" cy="155.7" r="11.4" fill="#d9b97c"/>
<path d="M296.4 144.7 A11.4 11.4 0 0 0 290.6 166.8 Z" fill="#2e4a8f"/>
</g>
<path d="M184.6 303 C196 293 218 285 248 283.4 C268 283.5 286 290 299.9 296.1 L306.3 278 L346.8 340 L273 331.9 L286.2 318.6 C276 309 262 302 238.4 296.4 C222 294 205 296 184.6 303 Z" fill="#2a9ddc" stroke="#312f4f" stroke-width="2" stroke-linejoin="round"/>
<path d="M456 286 L505.5 227.6 L511.5 227.6" fill="none" stroke="#312f4f" stroke-width="1.8" stroke-linecap="round" stroke-linejoin="round"/>
<path d="M492.5 392 L538.5 339.1 L543.9 339.1" fill="none" stroke="#312f4f" stroke-width="1.8" stroke-linecap="round" stroke-linejoin="round"/>
<path d="M743 444 L769.6 411.8 L777.3 411.8" fill="none" stroke="#312f4f" stroke-width="1.8" stroke-linecap="round" stroke-linejoin="round"/>
<path d="M808.7 513.5 L836.9 482 L842.8 482" fill="none" stroke="#312f4f" stroke-width="1.8" stroke-linecap="round" stroke-linejoin="round"/>
<text x="451.6" y="128.7" font-size="45.3" textLength="166.4" lengthAdjust="spacingAndGlyphs" stroke="#2f3357" stroke-width="2.2" stroke-linejoin="round">MOTOR</text>
<text x="628.6" y="128.7" font-size="45.3" textLength="143.6" lengthAdjust="spacingAndGlyphs" stroke="#2f3357" stroke-width="2.2" stroke-linejoin="round">UNITS</text>
<text x="782.4" y="128.7" font-size="45.3" textLength="50" lengthAdjust="spacingAndGlyphs" stroke="#2f3357" stroke-width="2.2" stroke-linejoin="round">IN</text>
<text x="451.8" y="182.6" font-size="45.3" textLength="251.8" lengthAdjust="spacingAndGlyphs" stroke="#2f3357" stroke-width="2.2" stroke-linejoin="round">MUSCULAR</text>
<text x="714.8" y="182.6" font-size="45.3" textLength="182" lengthAdjust="spacingAndGlyphs" stroke="#2f3357" stroke-width="2.2" stroke-linejoin="round">SYSTEM</text>
<text x="518.8" y="235" font-size="17" textLength="132.8" lengthAdjust="spacingAndGlyphs" stroke="#2f3357" stroke-width="0.9" stroke-linejoin="round">MOTOR NEURON</text>
<text x="548.7" y="344" font-size="17" textLength="110.8" lengthAdjust="spacingAndGlyphs" stroke="#2f3357" stroke-width="0.9" stroke-linejoin="round">BRANCHES OF</text>
<text x="548.7" y="363.8" font-size="17" textLength="132" lengthAdjust="spacingAndGlyphs" stroke="#2f3357" stroke-width="0.9" stroke-linejoin="round">MOTOR NEURON</text>
<text x="782.4" y="418" font-size="17" textLength="89.2" lengthAdjust="spacingAndGlyphs" stroke="#2f3357" stroke-width="0.9" stroke-linejoin="round">MYOFIBRIL</text>
<text x="846.2" y="487.8" font-size="17" textLength="117" lengthAdjust="spacingAndGlyphs" stroke="#2f3357" stroke-width="0.9" stroke-linejoin="round">MUSCLE FIBER</text>
<text x="91.6" y="394.7" font-size="16.3" textLength="127.4" lengthAdjust="spacingAndGlyphs" stroke="#2f3357" stroke-width="0.9" stroke-linejoin="round">MUSCLE FIBERS</text>
</svg>
</body></html>
